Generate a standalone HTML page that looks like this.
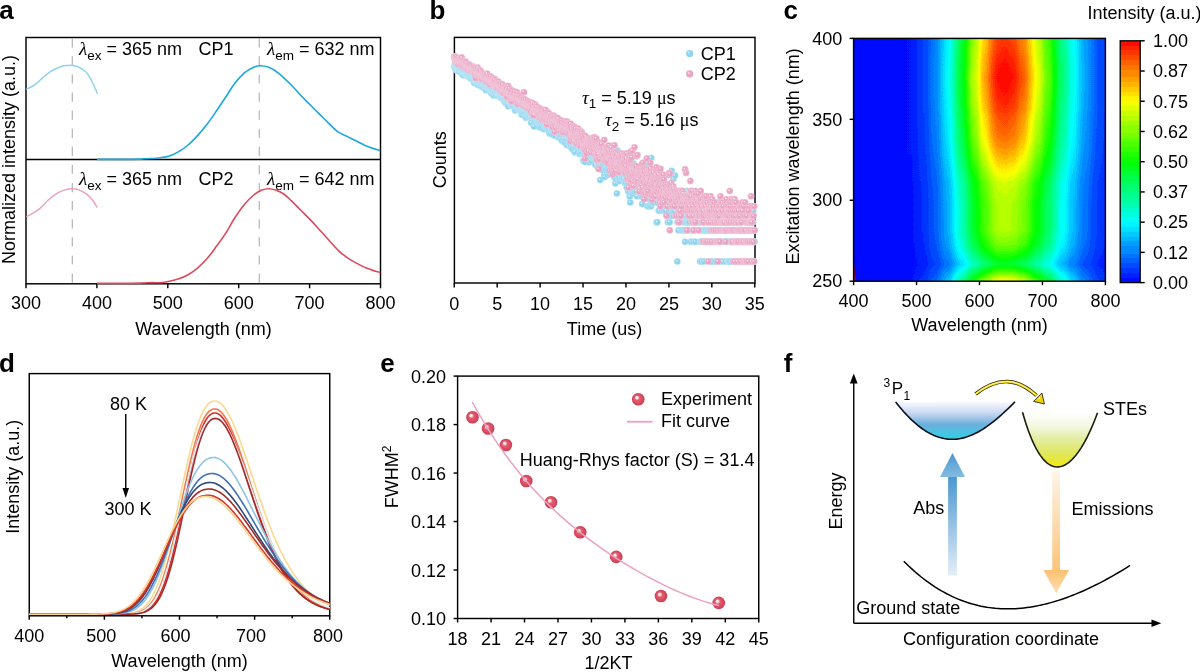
<!DOCTYPE html>
<html><head><meta charset="utf-8"><style>
html,body{margin:0;padding:0;background:#fff;width:1200px;height:672px;overflow:hidden}
svg{display:block;will-change:transform}
text{font-family:"Liberation Sans",sans-serif;fill:#000}
</style></head><body>
<svg width="1200" height="672" viewBox="0 0 1200 672">
<text x="-0.8" y="18.5" font-size="26" text-anchor="start" font-weight="bold">a</text>
<text x="429.4" y="18.5" font-size="26" text-anchor="start" font-weight="bold">b</text>
<text x="783.4" y="18.5" font-size="26" text-anchor="start" font-weight="bold">c</text>
<text x="-0.9" y="372.3" font-size="26" text-anchor="start" font-weight="bold">d</text>
<text x="380.2" y="372.3" font-size="26" text-anchor="start" font-weight="bold">e</text>
<text x="783.8" y="372.3" font-size="26" text-anchor="start" font-weight="bold">f</text>
<rect x="26" y="37.5" width="354.5" height="246.3" stroke="#000" stroke-width="1.45" fill="none"/>
<path d="M26,159.5H380.5" stroke="#000" stroke-width="1.45" fill="none"/>
<path d="M26,283.8v4.5" stroke="#000" stroke-width="1.45" fill="none"/>
<text x="26" y="309.3" font-size="18" text-anchor="middle" >300</text>
<path d="M96.9,283.8v4.5" stroke="#000" stroke-width="1.45" fill="none"/>
<text x="96.9" y="309.3" font-size="18" text-anchor="middle" >400</text>
<path d="M167.8,283.8v4.5" stroke="#000" stroke-width="1.45" fill="none"/>
<text x="167.8" y="309.3" font-size="18" text-anchor="middle" >500</text>
<path d="M238.7,283.8v4.5" stroke="#000" stroke-width="1.45" fill="none"/>
<text x="238.7" y="309.3" font-size="18" text-anchor="middle" >600</text>
<path d="M309.6,283.8v4.5" stroke="#000" stroke-width="1.45" fill="none"/>
<text x="309.6" y="309.3" font-size="18" text-anchor="middle" >700</text>
<path d="M380.5,283.8v4.5" stroke="#000" stroke-width="1.45" fill="none"/>
<text x="380.5" y="309.3" font-size="18" text-anchor="middle" >800</text>
<text x="203.5" y="335" font-size="18" text-anchor="middle" >Wavelength (nm)</text>
<text transform="translate(15,159.5) rotate(-90)" font-size="18" text-anchor="middle">Normalized intensity (a.u.)</text>
<path d="M72.3,38.2V283.8" stroke="#b4b4b4" stroke-width="1.2" stroke-dasharray="9.2 8.9"/>
<path d="M259.3,38.2V283.8" stroke="#b4b4b4" stroke-width="1.2" stroke-dasharray="9.2 8.9"/>
<path d="M26.25,89.4C27.29,88.88 30.62,87.4 32.5,86.25C34.38,85.1 35.62,84.06 37.5,82.5C39.38,80.94 41.67,78.67 43.75,76.9C45.83,75.13 47.92,73.3 50,71.9C52.08,70.5 54.17,69.48 56.25,68.5C58.33,67.52 60.62,66.5 62.5,66C64.38,65.5 65.83,65.6 67.5,65.5C69.17,65.4 70.83,65.23 72.5,65.4C74.17,65.57 75.83,65.83 77.5,66.5C79.17,67.17 80.83,68.19 82.5,69.4C84.17,70.61 85.83,71.57 87.5,73.75C89.17,75.93 90.83,79.17 92.5,82.5C94.17,85.83 96.67,91.88 97.5,93.75" stroke="#8fd3f0" stroke-width="1.5" fill="none"/>
<path d="M26.25,216.7C27.29,216.13 30.21,214.7 32.5,213.3C34.79,211.9 37.5,210.38 40,208.3C42.5,206.22 45,203.08 47.5,200.8C50,198.52 52.37,196.33 55,194.6C57.63,192.87 60.45,191.38 63.3,190.4C66.15,189.43 69.6,188.88 72.1,188.75C74.6,188.62 75.87,188.69 78.3,189.6C80.73,190.51 84.33,192.47 86.7,194.2C89.07,195.93 90.77,197.78 92.5,200C94.23,202.22 96.33,206.25 97.1,207.5" stroke="#eaa3bf" stroke-width="1.5" fill="none"/>
<path d="M97,159.4C100.83,159.39 112.83,159.4 120,159.35C127.17,159.3 134.67,159.24 140,159.1C145.33,158.96 148.67,158.72 152,158.5C155.33,158.28 157.1,158.18 160,157.75C162.9,157.32 166.28,156.93 169.4,155.9C172.53,154.88 175.63,153.42 178.75,151.6C181.87,149.78 184.97,147.67 188.1,145C191.22,142.33 194.37,139.03 197.5,135.6C200.63,132.17 203.78,128.46 206.9,124.4C210.03,120.34 213.13,115.78 216.25,111.25C219.37,106.72 222.47,101.89 225.6,97.2C228.72,92.51 231.87,87.17 235,83.1C238.13,79.03 241.28,75.45 244.4,72.8C247.53,70.15 251.1,68.38 253.75,67.2C256.4,66.02 257.8,65.7 260.3,65.7C262.8,65.7 265.78,66.02 268.75,67.2C271.72,68.38 274.35,69.83 278.1,72.8C281.85,75.77 287.5,81.25 291.25,85C295,88.75 297.48,92.02 300.6,95.3C303.73,98.58 306.87,101.57 310,104.7C313.13,107.83 316.27,110.98 319.4,114.1C322.52,117.22 325.63,120.43 328.75,123.4C331.87,126.37 334.98,129.7 338.1,131.9C341.23,134.1 344.37,135.04 347.5,136.6C350.63,138.16 353.77,139.68 356.9,141.25C360.02,142.82 363.13,144.66 366.25,146C369.37,147.34 373.26,148.53 375.6,149.3C377.94,150.07 379.52,150.38 380.3,150.6" stroke="#1aa8dc" stroke-width="1.6" fill="none"/>
<path d="M97,283.4C100.83,283.39 112.83,283.4 120,283.35C127.17,283.3 134.67,283.23 140,283.1C145.33,282.98 148.67,282.66 152,282.6C155.33,282.54 157.1,282.98 160,282.75C162.9,282.52 166.28,281.91 169.4,281.25C172.53,280.59 175.63,279.89 178.75,278.8C181.87,277.71 184.97,276.48 188.1,274.7C191.22,272.92 194.37,270.76 197.5,268.1C200.63,265.44 203.78,262.33 206.9,258.75C210.03,255.17 213.13,250.82 216.25,246.6C219.37,242.38 222.47,238.25 225.6,233.4C228.72,228.55 231.87,222.33 235,217.5C238.13,212.67 241.28,208.15 244.4,204.4C247.53,200.65 250.94,197.35 253.75,195C256.56,192.65 258.75,191.33 261.25,190.3C263.75,189.27 266.25,188.8 268.75,188.8C271.25,188.8 273.75,189.43 276.25,190.3C278.75,191.17 281.25,192.28 283.75,194C286.25,195.72 288.44,197.93 291.25,200.6C294.06,203.27 297.48,206.87 300.6,210C303.73,213.13 306.87,216.12 310,219.4C313.13,222.68 316.27,226.27 319.4,229.7C322.52,233.13 325.63,236.57 328.75,240C331.87,243.43 334.98,247.33 338.1,250.3C341.23,253.27 344.37,255.62 347.5,257.8C350.63,259.98 353.77,261.68 356.9,263.4C360.02,265.12 363.13,266.78 366.25,268.1C369.37,269.42 373.26,270.58 375.6,271.3C377.94,272.02 379.52,272.22 380.3,272.4" stroke="#dc4a5c" stroke-width="1.6" fill="none"/>
<text x="79" y="55.4" font-size="18"><tspan font-family="Liberation Serif, serif" font-style="italic" font-size="19">&#955;</tspan><tspan font-size="13.5" dy="4.5">ex</tspan><tspan dy="-4.5"> = 365 nm</tspan></text>
<text x="267" y="55.4" font-size="18"><tspan font-family="Liberation Serif, serif" font-style="italic" font-size="19">&#955;</tspan><tspan font-size="13.5" dy="4.5">em</tspan><tspan dy="-4.5"> = 632 nm</tspan></text>
<text x="198.5" y="55.4" font-size="18" text-anchor="start" >CP1</text>
<text x="79" y="185" font-size="18"><tspan font-family="Liberation Serif, serif" font-style="italic" font-size="19">&#955;</tspan><tspan font-size="13.5" dy="4.5">ex</tspan><tspan dy="-4.5"> = 365 nm</tspan></text>
<text x="267" y="185" font-size="18"><tspan font-family="Liberation Serif, serif" font-style="italic" font-size="19">&#955;</tspan><tspan font-size="13.5" dy="4.5">em</tspan><tspan dy="-4.5"> = 642 nm</tspan></text>
<text x="198.5" y="185" font-size="18" text-anchor="start" >CP2</text>
<rect x="454.4" y="37.4" width="300.6" height="245.6" stroke="#000" stroke-width="1.45" fill="none"/>
<path d="M454.25,283.0v4.5" stroke="#000" stroke-width="1.45" fill="none"/>
<text x="454.25" y="309.5" font-size="18" text-anchor="middle" >0</text>
<path d="M497.18,283.0v4.5" stroke="#000" stroke-width="1.45" fill="none"/>
<text x="497.18" y="309.5" font-size="18" text-anchor="middle" >5</text>
<path d="M540.11,283.0v4.5" stroke="#000" stroke-width="1.45" fill="none"/>
<text x="540.11" y="309.5" font-size="18" text-anchor="middle" >10</text>
<path d="M583.04,283.0v4.5" stroke="#000" stroke-width="1.45" fill="none"/>
<text x="583.04" y="309.5" font-size="18" text-anchor="middle" >15</text>
<path d="M625.97,283.0v4.5" stroke="#000" stroke-width="1.45" fill="none"/>
<text x="625.97" y="309.5" font-size="18" text-anchor="middle" >20</text>
<path d="M668.9,283.0v4.5" stroke="#000" stroke-width="1.45" fill="none"/>
<text x="668.9" y="309.5" font-size="18" text-anchor="middle" >25</text>
<path d="M711.83,283.0v4.5" stroke="#000" stroke-width="1.45" fill="none"/>
<text x="711.83" y="309.5" font-size="18" text-anchor="middle" >30</text>
<path d="M754.76,283.0v4.5" stroke="#000" stroke-width="1.45" fill="none"/>
<text x="754.76" y="309.5" font-size="18" text-anchor="middle" >35</text>
<text x="604.5" y="335.3" font-size="18" text-anchor="middle" >Time (us)</text>
<text transform="translate(446,159.7) rotate(-90)" font-size="18" text-anchor="middle">Counts</text>
<defs><marker id="mb" markerUnits="userSpaceOnUse" markerWidth="10" markerHeight="10" refX="5" refY="5" overflow="visible"><circle cx="5" cy="5" r="3.25" fill="#8ed4f0" stroke="#d6f0fb" stroke-width="0.4"/><circle cx="4.2" cy="4.2" r="0.8" fill="#eaf8fd"/></marker><marker id="mpk" markerUnits="userSpaceOnUse" markerWidth="10" markerHeight="10" refX="5" refY="5" overflow="visible"><circle cx="5" cy="5" r="3.25" fill="#e9a5c3" stroke="#f7dbe8" stroke-width="0.4"/><circle cx="4.2" cy="4.2" r="0.8" fill="#fdf0f5"/></marker></defs>
<path d="M454.25 66.6L454.44 65.39L454.63 66.33L454.82 65.62L455.01 65.51L455.19 66.12L455.38 69.19L455.57 66.76L455.76 65.37L455.95 66.74L456.14 66.42L456.33 65.42L456.52 67.35L456.71 70.47L456.89 68.65L457.08 66.79L457.27 67.64L457.46 67.42L457.65 66.63L457.84 70.27L458.03 69.13L458.22 65.32L458.41 70.26L458.59 69.8L458.78 67.26L458.97 68.02L459.16 71.43L459.35 69.69L459.54 68.17L459.73 66.86L459.92 67.61L460.11 67.73L460.29 69.53L460.48 65.09L460.67 71.47L460.86 69.36L461.05 67.76L461.24 68.5L461.43 72.83L461.62 69.45L461.81 70.84L461.99 69.96L462.18 70.99L462.37 74.38L462.56 70.79L462.75 71.99L462.94 67.36L463.13 73.04L463.32 75.27L463.51 70.68L463.69 72.31L463.88 73.42L464.07 71.83L464.26 70.96L464.45 74.5L464.64 70.03L464.83 73.5L465.02 72.09L465.21 69.5L465.39 69.35L465.58 74.63L465.77 73.18L465.96 72.91L466.15 73.91L466.34 73.91L466.53 72.79L466.72 73.64L466.91 72.14L467.09 73.57L467.28 75.38L467.47 74.96L467.66 68.07L467.85 75.83L468.04 74.3L468.23 75.99L468.42 73.44L468.61 72.83L468.79 75.23L468.98 75.09L469.17 77.33L469.36 72.22L469.55 76.92L469.74 76.97L469.93 76.85L470.12 77.06L470.31 70.23L470.49 72.38L470.68 72.86L470.87 77.93L471.06 76.73L471.25 75.75L471.44 79.11L471.63 75.03L471.82 72.02L472.01 75.44L472.19 78L472.38 77.93L472.57 76.48L472.76 75.07L472.95 76.18L473.14 77.44L473.33 74.57L473.52 75.92L473.71 79.72L473.89 81.66L474.08 76.79L474.27 82.95L474.46 77.52L474.65 78.76L474.84 75.3L475.03 79.99L475.22 77L475.41 81.6L475.59 79.23L475.78 77.25L475.97 81.5L476.16 83.06L476.35 78.22L476.54 81.15L476.73 81.98L476.92 81.79L477.11 81.14L477.29 82.48L477.48 80.78L477.67 84.66L477.86 82.02L478.05 80.9L478.24 81.94L478.43 79L478.62 82.16L478.81 79.31L478.99 83.81L479.18 82.43L479.37 81.71L479.56 83.01L479.75 79.59L479.94 82.74L480.13 79.99L480.32 81.92L480.51 83.95L480.69 84.44L480.88 86.04L481.07 80.08L481.26 81.42L481.45 84.22L481.64 81.82L481.83 83.42L482.02 82.96L482.21 82.87L482.39 79.35L482.58 84.75L482.77 83.29L482.96 78.53L483.15 87.55L483.34 86.44L483.53 81.74L483.72 85.16L483.91 85.45L484.09 85.62L484.28 84.36L484.47 85.44L484.66 84L484.85 84.67L485.04 83.91L485.23 79.99L485.42 85.42L485.61 84.19L485.79 86.62L485.98 90.16L486.17 84.21L486.36 87.45L486.55 86.84L486.74 86.15L486.93 85.2L487.12 85.63L487.31 85.84L487.49 86.31L487.68 85.94L487.87 88.58L488.06 88.76L488.25 88.17L488.44 88.09L488.63 87.49L488.82 87.08L489.01 89.51L489.2 86.29L489.38 88.75L489.57 88.46L489.76 88.43L489.95 86.22L490.14 89.67L490.33 87.6L490.52 86.35L490.71 91.55L490.9 91.44L491.08 85.82L491.27 93.34L491.46 87.3L491.65 91.33L491.84 89.13L492.03 88.88L492.22 90.79L492.41 89.35L492.6 86.63L492.78 91.57L492.97 92.52L493.16 91.09L493.35 95.3L493.54 88.5L493.73 95.19L493.92 92.8L494.11 89.55L494.3 93.08L494.48 92.64L494.67 90.25L494.86 91.17L495.05 91.33L495.24 93.18L495.43 92.13L495.62 89.23L495.81 88.96L496 94.14L496.18 91.35L496.37 90.1L496.56 90.87L496.75 89.42L496.94 89.66L497.13 93.43L497.32 95.77L497.51 88.95L497.7 94L497.88 91.7L498.07 93.8L498.26 93.88L498.45 93.65L498.64 94.85L498.83 93.56L499.02 94.11L499.21 90.5L499.4 96.15L499.58 94.08L499.77 93.17L499.96 94.22L500.15 93.65L500.34 90.11L500.53 96.6L500.72 97.84L500.91 92.42L501.1 95.12L501.28 95.87L501.47 94.04L501.66 95.82L501.85 95.28L502.04 94.52L502.23 95.24L502.42 97.7L502.61 97.24L502.8 94.84L502.98 92.59L503.17 95.2L503.36 90.68L503.55 98.55L503.74 100.5L503.93 99.02L504.12 97.89L504.31 96.32L504.5 94.67L504.68 93.86L504.87 101.39L505.06 98.22L505.25 96.24L505.44 99.86L505.63 98.65L505.82 102.88L506.01 95.98L506.2 97.37L506.38 95.19L506.57 96.82L506.76 101.49L506.95 96.94L507.14 101.87L507.33 99.96L507.52 99.21L507.71 104.79L507.9 101.16L508.08 100.82L508.27 106.37L508.46 95.49L508.65 99.61L508.84 97.47L509.03 99.91L509.22 98.6L509.41 97.83L509.6 101.5L509.78 99.68L509.97 102.83L510.16 104.94L510.35 99.71L510.54 100.74L510.73 102.36L510.92 102.1L511.11 104.8L511.3 103.07L511.48 93.91L511.67 103.27L511.86 102.7L512.05 103.45L512.24 103.83L512.43 104.22L512.62 100.6L512.81 105.92L513 105.27L513.18 102.31L513.37 102.01L513.56 105.78L513.75 101.58L513.94 105.18L514.13 106.41L514.32 99.51L514.51 103.29L514.7 102.03L514.88 101.15L515.07 104.22L515.26 110.53L515.45 99.45L515.64 103L515.83 104.65L516.02 107.23L516.21 101.27L516.4 104.18L516.58 108.08L516.77 103.28L516.96 109.42L517.15 105.07L517.34 105.8L517.53 105.29L517.72 105.87L517.91 108.13L518.1 108.09L518.28 106.25L518.47 109.18L518.66 103.27L518.85 103.48L519.04 108.08L519.23 103.35L519.42 107.56L519.61 110.03L519.8 109.3L519.98 105.4L520.17 107.94L520.36 110.5L520.55 106.91L520.74 103.68L520.93 109.15L521.12 106.09L521.31 106.17L521.5 111.09L521.68 114.63L521.87 109.76L522.06 110.41L522.25 106.87L522.44 109.43L522.63 113.26L522.82 109.2L523.01 108.3L523.2 103.72L523.38 103.05L523.57 107.25L523.76 112.55L523.95 109.32L524.14 109.2L524.33 112.73L524.52 110.27L524.71 112.61L524.9 109.16L525.08 109L525.27 116.08L525.46 107.83L525.65 109.53L525.84 117.81L526.03 112.44L526.22 110.5L526.41 116.78L526.6 110.77L526.78 111.13L526.97 109.61L527.16 107.37L527.35 114.3L527.54 108.67L527.73 115.96L527.92 114.58L528.11 109.28L528.3 108.6L528.48 112.09L528.67 114.99L528.86 106.97L529.05 115.31L529.24 116.6L529.43 111.5L529.62 109.02L529.81 108.59L530 113.98L530.18 116.59L530.37 112.89L530.56 116.31L530.75 114.88L530.94 112.4L531.13 122.7L531.32 105.76L531.51 115.63L531.7 114.18L531.88 113.19L532.07 117L532.26 115.29L532.45 111.05L532.64 114.88L532.83 112.99L533.02 116.69L533.21 114.37L533.4 117.53L533.58 117.27L533.77 116.81L533.96 126.44L534.15 117.85L534.34 112.3L534.53 115.46L534.72 121.61L534.91 110.01L535.1 115.67L535.28 117.02L535.47 113.88L535.66 114.43L535.85 114L536.04 121.69L536.23 116.34L536.42 118.56L536.61 119.54L536.8 118.24L536.98 121.2L537.17 117.76L537.36 116.5L537.55 117.7L537.74 120.65L537.93 115.14L538.12 118.34L538.31 123.14L538.5 119.01L538.68 120.46L538.87 121.97L539.06 126.94L539.25 123.54L539.44 123.05L539.63 109.1L539.82 122.13L540.01 118.6L540.2 115.71L540.38 126.35L540.57 127.5L540.76 122.31L540.95 118.03L541.14 120.12L541.33 119.86L541.52 125.06L541.71 121.51L541.9 126.47L542.08 120.95L542.27 113.56L542.46 122.33L542.65 113.91L542.84 122.69L543.03 118.72L543.22 117.51L543.41 120.3L543.6 120.31L543.78 129.32L543.97 120.42L544.16 124.57L544.35 124.99L544.54 122.83L544.73 118.8L544.92 120.96L545.11 122.57L545.3 121.56L545.48 124.4L545.67 123.54L545.86 128.25L546.05 128.8L546.24 127.55L546.43 121.26L546.62 126.09L546.81 119.63L547 126.37L547.18 125.93L547.37 124.71L547.56 124.06L547.75 125.68L547.94 124.95L548.13 121.21L548.32 126.15L548.51 127.88L548.7 123.71L548.88 114.24L549.07 121.64L549.26 130.11L549.45 133.59L549.64 124.04L549.83 119.15L550.02 125.06L550.21 124.96L550.4 123.8L550.58 124.91L550.77 133.5L550.96 128.36L551.15 129.43L551.34 125.86L551.53 129.2L551.72 125.16L551.91 129.17L552.1 127.35L552.28 127.69L552.47 123.15L552.66 130.7L552.85 127.14L553.04 128.18L553.23 125.75L553.42 124.83L553.61 135.16L553.8 130.91L553.98 128.16L554.17 126.39L554.36 128.77L554.55 130.98L554.74 129.39L554.93 128.25L555.12 129.9L555.31 135.74L555.5 129.85L555.69 129.88L555.87 127.47L556.06 129.74L556.25 133.25L556.44 131.11L556.63 130.84L556.82 131.13L557.01 132.13L557.2 129.84L557.39 124.31L557.57 134.17L557.76 127.71L557.95 132.94L558.14 130.96L558.33 126L558.52 137.59L558.71 129.63L558.9 135L559.09 129.37L559.27 128.98L559.46 130.35L559.65 134.72L559.84 136.71L560.03 130.5L560.22 135.73L560.41 129.16L560.6 127.8L560.79 128.15L560.97 130.19L561.16 130.55L561.35 134.55L561.54 134.35L561.73 140.49L561.92 130.8L562.11 132.4L562.3 136.24L562.49 129.97L562.67 138.83L562.86 131.93L563.05 133.87L563.24 136.9L563.43 128.43L563.62 132.35L563.81 131.24L564 140.99L564.19 135.51L564.37 133.44L564.56 142.87L564.75 132.28L564.94 142.37L565.13 137.27L565.32 138.72L565.51 133.57L565.7 136.37L565.89 135.28L566.07 138.9L566.26 136L566.45 134.49L566.64 134.23L566.83 134.81L567.02 145.05L567.21 128.99L567.4 134.41L567.59 127.89L567.77 137.08L567.96 137.38L568.15 130.16L568.34 138.18L568.53 138.05L568.72 137.66L568.91 136.32L569.1 142.63L569.29 136.48L569.47 144.41L569.66 142.53L569.85 134.39L570.04 133.22L570.23 136.44L570.42 146.91L570.61 146.08L570.8 141.34L570.99 137.69L571.17 137.02L571.36 137.6L571.55 130.78L571.74 136.62L571.93 147.13L572.12 141.92L572.31 149.14L572.5 148.28L572.69 143.08L572.87 138.44L573.06 139.99L573.25 138.8L573.44 138.03L573.63 141.49L573.82 146.24L574.01 139.39L574.2 140.57L574.39 143.33L574.57 136.56L574.76 152.27L574.95 145.26L575.14 147.35L575.33 137.78L575.52 146.71L575.71 144.03L575.9 141.48L576.09 143.96L576.27 138.18L576.46 142.71L576.65 139.89L576.84 144.75L577.03 139.57L577.22 143.78L577.41 146.37L577.6 145.6L577.79 146.73L577.97 137.88L578.16 142.46L578.35 143.3L578.54 138.11L578.73 141.51L578.92 147L579.11 144.04L579.3 145.93L579.49 153.94L579.67 142.78L579.86 145.18L580.05 145.69L580.24 153.57L580.43 140.37L580.62 149.29L580.81 149.49L581 140.71L581.19 139.89L581.37 138.72L581.56 146.1L581.75 152.65L581.94 145.54L582.13 140.27L582.32 147.08L582.51 152.25L582.7 147.64L582.89 144.28L583.07 149.35L583.26 143.58L583.45 160.45L583.64 144.11L583.83 149.42L584.02 142.07L584.21 146.62L584.4 153.47L584.59 153.81L584.77 142.25L584.96 162.01L585.15 151.84L585.34 157.79L585.53 148.26L585.72 150.36L585.91 152.86L586.1 145.68L586.29 157.38L586.47 153.29L586.66 153.97L586.85 143.83L587.04 154.47L587.23 153.22L587.42 149.75L587.61 143.27L587.8 156.36L587.99 157.79L588.17 158.16L588.36 141.5L588.55 154.77L588.74 159.83L588.93 153.79L589.12 151.64L589.31 162.21L589.5 149.14L589.69 151.04L589.87 153.58L590.06 150.06L590.25 158.38L590.44 159.69L590.63 159.51L590.82 148.88L591.01 156.21L591.2 145.06L591.39 139.54L591.57 160.96L591.76 151.85L591.95 149.47L592.14 157.62L592.33 153.09L592.52 149.53L592.71 156.86L592.9 157.61L593.09 153.36L593.27 146.02L593.46 154.89L593.65 156.69L593.84 150.87L594.03 159.07L594.22 154.03L594.41 158.09L594.6 154.74L594.79 157.37L594.97 157.11L595.16 139.94L595.35 164.65L595.54 158.32L595.73 158.12L595.92 157.11L596.11 150.23L596.3 152.93L596.49 159.99L596.67 143.51L596.86 155.11L597.05 153.26L597.24 145.48L597.43 156.96L597.62 146.24L597.81 166.92L598 149.61L598.19 163.42L598.37 155.82L598.56 165.53L598.75 163.96L598.94 152.85L599.13 155.71L599.32 161.26L599.51 161.5L599.7 164.29L599.89 160.86L600.07 156.98L600.26 180.08L600.45 155.2L600.64 152.85L600.83 165.43L601.02 166.28L601.21 162.79L601.4 152.78L601.59 167.39L601.77 154.93L601.96 151.76L602.15 159.7L602.34 150.45L602.53 164.79L602.72 170.13L602.91 153.24L603.1 164.71L603.29 158.2L603.47 153.86L603.66 155.03L603.85 152.76L604.04 151.47L604.23 174.68L604.42 163.83L604.61 160.09L604.8 177.11L604.99 153.41L605.17 159.07L605.36 154.16L605.55 157L605.74 168.68L605.93 162.93L606.12 156.59L606.31 160.78L606.5 165.07L606.69 157.76L606.87 162.56L607.06 167.59L607.25 169L607.44 152.97L607.63 161.53L607.82 161.83L608.01 175.07L608.2 157.18L608.39 165.03L608.57 163.98L608.76 166.98L608.95 154.01L609.14 162.57L609.33 159.11L609.52 161.69L609.71 174.06L609.9 164.45L610.09 165.81L610.27 157.85L610.46 161.92L610.65 172.12L610.84 156.31L611.03 171.34L611.22 169.28L611.41 167.05L611.6 160.15L611.79 160.65L611.97 169.24L612.16 166.13L612.35 160.43L612.54 171.65L612.73 157.58L612.92 169.08L613.11 167.31L613.3 170.79L613.49 172.38L613.67 167.2L613.86 162.83L614.05 158.98L614.24 157.83L614.43 162.8L614.62 166.97L614.81 177.75L615 165.86L615.19 171.09L615.37 183.38L615.56 156.93L615.75 161.99L615.94 166.37L616.13 170.94L616.32 168.33L616.51 170.74L616.7 179.45L616.89 193.5L617.07 175.54L617.26 169.95L617.45 172.33L617.64 150.57L617.83 177.61L618.02 169.29L618.21 169.94L618.4 151.9L618.59 176.07L618.77 168.56L618.96 180.41L619.15 163.13L619.34 161.91L619.53 181.04L619.72 172.78L619.91 178.45L620.1 168.51L620.29 160.32L620.47 166.99L620.66 175.02L620.85 163.3L621.04 164.29L621.23 172.92L621.42 177.68L621.61 169.5L621.8 179.17L621.99 176.33L622.17 178.18L622.36 162.45L622.55 167.99L622.74 163.74L622.93 175.12L623.12 170.89L623.31 178.79L623.5 177.76L623.69 178.12L623.88 153.91L624.06 181.21L624.25 173.19L624.44 161.16L624.63 174.37L624.82 182.91L625.01 169.22L625.2 160.42L625.39 167.38L625.58 182.02L625.76 179.66L625.95 175.64L626.14 172.78L626.33 167.85L626.52 178.35L626.71 187.51L626.9 177.8L627.09 176.75L627.28 166.46L627.46 161.93L627.65 180.58L627.84 165.74L628.03 183.23L628.22 191.8L628.41 165.67L628.6 163.46L628.79 166.94L628.98 191.03L629.16 162.38L629.35 178.69L629.54 171.03L629.73 196.7L629.92 175.77L630.11 157.7L630.3 202.53L630.49 155.4L630.68 161.64L630.86 164.32L631.05 178.38L631.24 172.64L631.43 177.32L631.62 191.03L631.81 165.68L632 176.84L632.19 163.63L632.38 180.62L632.56 193.5L632.75 191.03L632.94 169.62L633.13 175.93L633.32 175.28L633.51 163.56L633.7 191.4L633.89 165.98L634.08 191.1L634.26 187.66L634.45 171.05L634.64 178.09L634.83 169.82L635.02 172.76L635.21 183.82L635.4 187.11L635.59 174.8L635.78 168.36L635.96 190.29L636.15 191.03L636.34 177.86L636.53 174.27L636.72 166.22L636.91 168.49L637.1 196.2L637.29 183.35L637.48 168.59L637.66 186.57L637.85 183.7L638.04 174.77L638.23 169.31L638.42 181.43L638.61 178.83L638.8 168.24L638.99 169.13L639.18 177.98L639.36 170.67L639.55 177.34L639.74 188.58L639.93 193.51L640.12 173.99L640.31 183.17L640.5 190.68L640.69 171.28L640.88 191.03L641.06 178.42L641.25 196.2L641.44 166.56L641.63 191.03L641.82 178.81L642.01 181.17L642.2 203.9L642.39 178.2L642.58 184.03L642.76 183.4L642.95 196.2L643.14 191.03L643.33 174.05L643.52 179.96L643.71 191.03L643.9 191.03L644.09 193.5L644.28 178.12L644.46 169.38L644.65 182.07L644.84 193.5L645.03 170L645.22 165.43L645.41 186.16L645.6 183.45L645.79 193.8L645.98 175.8L646.16 178.91L646.35 191.03L646.54 193.78L646.73 175.65L646.92 183.67L647.11 191.03L647.3 193.5L647.49 196.2L647.68 206.32L647.86 178.59L648.05 206.32L648.24 182.9L648.43 186.55L648.62 190.38L648.81 192.97L649 199.19L649.19 175.83L649.38 180.19L649.56 199.19L649.75 199.19L649.94 193.5L650.13 206.32L650.32 191.31L650.51 180.37L650.7 182.12L650.89 191.03L651.08 206.32L651.26 157.94L651.45 171.84L651.64 196.2L651.83 203.5L652.02 191.03L652.21 196.2L652.4 191.03L652.59 202.53L652.78 179.07L652.96 199.19L653.15 193.5L653.34 174.43L653.53 193.5L653.72 202.53L653.91 196.2L654.1 172.56L654.29 192.68L654.48 178.86L654.66 184.73L654.85 199.19L655.04 196.2L655.23 193.5L655.42 180.34L655.61 181.56L655.8 177.29L655.99 196.2L656.18 193.5L656.36 196.2L656.55 222.19L656.74 193.85L656.93 191.03L657.12 202.53L657.31 222.19L657.5 202.53L657.69 193.5L657.88 196.2L658.06 196.43L658.25 178.84L658.44 173.35L658.63 210.69L658.82 193.5L659.01 191.03L659.2 193.5L659.39 210.69L659.58 192.2L659.76 193.5L659.95 199.19L660.14 196.2L660.33 196.2L660.52 199.19L660.71 191.03L660.9 193.5L661.09 185.57L661.28 196.2L661.46 206.32L661.65 185.27L661.84 210.69L662.03 206.32L662.22 193.5L662.41 193.5L662.6 199.19L662.79 202.53L662.98 191.9L663.16 206.32L663.35 196.2L663.54 210.69L663.73 199.19L663.92 202.53L664.11 186.29L664.3 196.2L664.49 196.2L664.68 206.32L664.86 202.53L665.05 210.69L665.24 189.62L665.43 191.34L665.62 199.19L665.81 199.19L666 210.69L666.19 191.03L666.38 206.32L666.56 193.5L666.75 215.86L666.94 202.53L667.13 191.03L667.32 206.32L667.51 199.19L667.7 191.03L667.89 222.19L668.08 202.53L668.26 191.03L668.45 191.03L668.64 202.53L668.83 194.23L669.02 202.53L669.21 191.03L669.4 191.03L669.59 222.19L669.78 199.19L669.96 206.32L670.15 215.86L670.34 196.2L670.53 206.32L670.72 215.86L670.91 202.53L671.1 210.69L671.29 188.83L671.48 199.19L671.66 170.77L671.85 202.53L672.04 199.19L672.23 202.53L672.42 202.53L672.61 210.69L672.8 196.2L672.99 206.32L673.18 215.86L673.36 210.69L673.55 178.73L673.74 199.19L673.93 199.19L674.12 191.03L674.31 193.5L674.5 199.19L674.69 210.69L674.88 206.32L675.06 175.57L675.25 199.19L675.44 202.53L675.63 206.32L675.82 191.03L676.01 202.53L676.2 215.86L676.39 199.19L676.58 199.19L676.76 199.19L676.95 215.86L677.14 215.86L677.33 261.5L677.52 222.19L677.71 210.69L677.9 199.19L678.09 196.2L678.28 210.69L678.46 230.34L678.65 196.2L678.84 210.69L679.03 202.53L679.22 215.86L679.41 215.86L679.6 202.53L679.79 215.86L679.98 206.32L680.16 191.03L680.35 202.53L680.54 193.5L680.73 199.19L680.92 210.69L681.11 202.53L681.3 193.5L681.49 230.34L681.68 191.03L681.86 222.19L682.05 206.32L682.24 210.69L682.43 230.34L682.62 202.53L682.81 215.86L683 196.2L683.19 202.53L683.38 202.53L683.56 206.32L683.75 230.34L683.94 215.86L684.13 199.19L684.32 230.34L684.51 210.69L684.7 206.32L684.89 206.32L685.08 241.84L685.26 202.53L685.45 230.34L685.64 222.19L685.83 215.86L686.02 206.32L686.21 215.86L686.4 199.19L686.59 222.19L686.78 230.34L686.96 215.86L687.15 210.69L687.34 199.19L687.53 191.03L687.72 215.86L687.91 222.19L688.1 210.69L688.29 222.19L688.48 215.86L688.66 215.86L688.85 222.19L689.04 230.34L689.23 230.34L689.42 199.19L689.61 222.19L689.8 206.32L689.99 199.19L690.18 215.86L690.36 202.53L690.55 191.03L690.74 210.69L690.93 241.84L691.12 210.69L691.31 206.32L691.5 193.5L691.69 222.19L691.88 210.69L692.07 206.32L692.25 206.32L692.44 222.19L692.63 206.32L692.82 230.34L693.01 222.19L693.2 230.34L693.39 215.86L693.58 241.84L693.77 215.86L693.95 210.69L694.14 222.19L694.33 215.86L694.52 210.69L694.71 196.2L694.9 230.34L695.09 215.86L695.28 196.2L695.47 241.84L695.65 222.19L695.84 222.19L696.03 210.69L696.22 199.19L696.41 206.32L696.6 199.19L696.79 215.86L696.98 210.69L697.17 215.86L697.35 210.69L697.54 222.19L697.73 206.32L697.92 222.19L698.3 215.86L698.49 230.34L698.68 210.69L698.87 215.86L699.05 215.86L699.24 206.32L699.43 222.19L699.62 210.69L699.81 210.69L700 261.5L700.19 241.84L700.38 230.34L700.57 199.19L700.75 222.19L700.94 241.84L701.13 241.84L701.32 222.19L701.51 261.5L701.7 215.86L701.89 241.84L702.08 222.19L702.27 215.86L702.45 230.34L702.64 215.86L702.83 241.84L703.02 202.53L703.21 230.34L703.4 230.34L703.59 210.69L703.78 261.5L703.97 230.34L704.15 215.86L704.34 215.86L704.53 241.84L704.72 241.84L704.91 222.19L705.1 210.69L705.29 230.34L705.48 210.69L705.67 230.34L706.04 210.69L706.23 230.34L706.42 215.86L706.61 222.19L706.8 202.53L706.99 202.53L707.18 215.86L707.37 206.32L707.55 222.19L707.74 215.86L707.93 230.34L708.12 230.34L708.31 215.86L708.5 215.86L708.69 230.34L708.88 215.86L709.07 241.84L709.25 215.86L709.44 215.86L709.63 210.69L709.82 230.34L710.01 241.84L710.2 215.86L710.39 261.5L710.58 210.69L710.77 230.34L710.95 261.5L711.14 215.86L711.33 261.5L711.71 222.19L711.9 261.5L712.09 215.86L712.28 241.84L712.47 222.19L712.65 241.84L713.03 222.19L713.22 222.19L713.41 210.69L713.6 230.34L713.79 206.32L713.98 215.86L714.17 241.84L714.35 230.34L714.54 222.19L714.73 241.84L714.92 230.34L715.11 230.34L715.3 215.86L715.49 215.86L715.68 261.5L715.87 230.34L716.05 261.5L716.24 210.69L716.43 230.34L716.62 202.53L716.81 222.19L717 230.34L717.19 230.34L717.38 222.19L717.57 222.19L717.75 230.34L717.94 241.84L718.13 215.86L718.32 230.34L718.7 202.53L718.89 222.19L719.08 202.53L719.27 222.19L719.45 230.34L719.64 261.5L719.83 241.84L720.02 230.34L720.21 215.86L720.4 230.34L720.59 230.34L720.78 222.19L720.97 215.86L721.15 210.69L721.34 199.19L721.53 215.86L721.72 241.84L721.91 222.19L722.1 210.69L722.29 215.86L722.48 261.5L722.67 230.34L722.85 241.84L723.04 241.84L723.42 222.19L723.61 215.86L723.8 222.19L723.99 215.86L724.18 222.19L724.37 215.86L724.55 222.19L724.74 222.19L724.93 222.19L725.12 215.86L725.31 222.19L725.5 222.19L725.69 241.84L725.88 261.5L726.07 241.84L726.25 230.34L726.44 230.34L726.63 241.84L726.82 222.19L727.01 230.34L727.2 230.34L727.39 241.84L727.58 206.32L727.77 222.19L727.95 261.5L728.14 261.5L728.33 241.84L728.52 222.19L728.71 222.19L728.9 261.5L729.09 230.34L729.28 230.34L729.47 215.86L729.84 261.5L730.03 241.84L730.22 261.5L730.41 230.34L730.6 241.84L730.79 241.84L730.98 241.84L731.17 230.34L731.35 241.84L731.54 222.19L731.73 222.19L731.92 261.5L732.11 215.86L732.3 241.84L732.49 261.5L732.87 261.5L733.05 241.84L733.24 215.86L733.43 230.34L733.62 241.84L733.81 230.34L734 241.84L734.19 230.34L734.38 222.19L734.57 222.19L734.75 261.5L735.13 261.5L735.32 241.84L735.7 222.19L735.89 222.19L736.08 241.84L736.45 222.19L736.64 230.34L736.83 222.19L737.02 230.34L737.21 261.5L737.4 241.84L737.59 261.5L737.78 241.84L737.97 230.34L738.15 215.86L738.34 215.86L738.72 222.19L738.91 241.84L739.1 261.5L739.29 241.84L739.48 206.32L739.67 230.34L740.04 261.5L740.23 241.84L740.42 215.86L740.61 230.34L740.8 261.5L740.99 230.34L741.18 261.5L741.37 230.34L741.55 241.84L741.74 241.84L741.93 230.34L742.31 241.84L742.5 206.32L742.69 241.84L742.88 241.84L743.25 261.5L743.44 261.5L743.63 230.34L744.01 230.34L744.2 230.34L744.39 215.86L744.58 261.5L744.77 241.84L744.95 261.5L745.14 241.84L745.52 230.34L745.71 222.19L745.9 261.5L746.09 241.84L746.28 241.84L746.47 241.84L746.65 241.84L746.84 241.84L747.03 241.84L747.22 230.34L747.6 230.34L747.79 261.5L747.98 261.5L748.17 261.5L748.35 261.5L748.92 222.19L749.11 241.84L749.3 261.5L749.49 261.5L749.68 222.19L749.87 241.84L750.05 241.84L750.24 230.34L750.43 241.84L750.62 230.34L750.81 241.84L751 261.5L751.19 261.5L751.38 261.5L751.57 230.34L751.75 261.5L751.94 222.19L752.13 241.84L752.32 215.86L752.51 261.5L752.7 261.5L752.89 241.84L753.08 222.19L753.27 210.69L753.45 241.84L753.64 241.84L753.83 241.84L754.02 230.34L754.21 261.5L754.4 230.34L754.59 241.84" fill="none" stroke="none" marker-start="url(#mb)" marker-mid="url(#mb)" marker-end="url(#mb)"/>
<path d="M454.25 56.76L454.44 58.6L454.63 56.61L454.82 57.45L455.01 57.33L455.19 60.45L455.38 56.55L455.57 60.58L455.76 57.18L455.95 59.47L456.14 59.33L456.33 59.19L456.52 61.21L456.71 59.12L456.89 59.8L457.08 59.67L457.27 62.9L457.46 58.11L457.65 60.23L457.84 60.81L458.03 62.79L458.22 64.61L458.41 59.44L458.59 59.47L458.78 61.41L458.97 62.6L459.16 61.64L459.35 62.64L459.54 59.85L459.73 64L459.92 60.45L460.11 58.93L460.29 58.81L460.48 62.48L460.67 59.53L460.86 62.98L461.05 62.29L461.24 62.2L461.43 58.72L461.62 63.52L461.81 57.48L461.99 61.23L462.18 62.98L462.37 62.19L462.56 61.79L462.75 60.94L462.94 63.63L463.13 66.5L463.32 62.04L463.51 62.7L463.69 62.9L463.88 61.23L464.07 61.59L464.26 66.33L464.45 65.44L464.64 62.56L464.83 63.33L465.02 64.44L465.21 64.64L465.39 62.46L465.58 63.29L465.77 61.84L465.96 61.98L466.15 62.62L466.34 65.89L466.53 65.15L466.72 64.22L466.91 65.58L467.09 67.38L467.28 64.55L467.47 63.98L467.66 69.68L467.85 68.73L468.04 64.6L468.23 66.18L468.42 65.83L468.61 66.75L468.79 64.81L468.98 67.07L469.17 67.64L469.36 65.14L469.55 64.87L469.74 69.69L469.93 68.02L470.12 69.2L470.31 69.78L470.49 67.9L470.68 66.06L470.87 69.41L471.06 70.69L471.25 69.68L471.44 69.93L471.63 67.75L471.82 69.38L472.01 68.37L472.19 68.64L472.38 70.31L472.57 70.44L472.76 67.55L472.95 66.5L473.14 68.5L473.33 67.66L473.52 71.05L473.71 69.14L473.89 70.65L474.08 72.5L474.27 68.14L474.46 70.91L474.65 71.96L474.84 70.75L475.03 69.34L475.22 73.77L475.41 69.24L475.59 70.84L475.78 78.06L475.97 68.77L476.16 71.1L476.35 70.45L476.54 73.15L476.73 72.72L476.92 73.03L477.11 72.44L477.29 73.38L477.48 74.04L477.67 67.44L477.86 71.75L478.05 71.82L478.24 73.12L478.43 70.61L478.62 76.01L478.81 70.49L478.99 74L479.18 73.8L479.37 70.42L479.56 71.11L479.75 74.93L479.94 74.18L480.13 76.35L480.32 75.32L480.51 74.64L480.69 70.9L480.88 74.78L481.07 78.65L481.26 74.66L481.45 74.47L481.64 78.23L481.83 75.66L482.02 73.99L482.21 76.61L482.39 74.74L482.58 73.61L482.77 76.25L482.96 76.21L483.15 73.84L483.34 74.91L483.53 76L483.72 75.51L483.91 77.29L484.09 75.6L484.28 77.01L484.47 76.29L484.66 74.79L484.85 79.89L485.04 77.79L485.23 76.97L485.42 75.64L485.61 75.85L485.79 77.16L485.98 75.8L486.17 81.02L486.36 79.21L486.55 77.33L486.74 81.58L486.93 79.43L487.12 73.72L487.31 78.97L487.49 79.24L487.68 77.37L487.87 79.23L488.06 80L488.25 80.14L488.44 78.98L488.63 77.5L488.82 79.77L489.01 77.36L489.2 84.05L489.38 79.62L489.57 83.42L489.76 80L489.95 76.65L490.14 84.14L490.33 79.21L490.52 79.61L490.71 76.61L490.9 82.06L491.08 79.46L491.27 80.89L491.46 79.82L491.65 83.21L491.84 82.04L492.03 81.76L492.22 82.89L492.41 80.4L492.6 82.8L492.78 78.33L492.97 80.41L493.16 81.7L493.35 82.78L493.54 83.11L493.73 84.14L493.92 80.89L494.11 82.25L494.3 82.6L494.48 78.69L494.67 81.08L494.86 79.95L495.05 83.95L495.24 86.53L495.43 84.29L495.62 85.15L495.81 85.7L496 86.59L496.18 81.74L496.37 86.72L496.56 85.31L496.75 84.68L496.94 87.8L497.13 85.91L497.32 83.01L497.51 86.87L497.7 85.28L497.88 86.07L498.07 87.71L498.26 81.58L498.45 83.89L498.64 83.62L498.83 85.66L499.02 83.29L499.21 88.31L499.4 83.79L499.58 86.39L499.77 86.38L499.96 86.96L500.15 86.06L500.34 84.09L500.53 85.81L500.72 90.39L500.91 88.02L501.1 88.84L501.28 87.02L501.47 87.13L501.66 87.94L501.85 87.23L502.04 86.64L502.23 88.18L502.42 86.09L502.61 84.48L502.8 88.26L502.98 89.29L503.17 93.05L503.36 89.55L503.55 92.4L503.74 93.12L503.93 89.35L504.12 90.61L504.31 89.34L504.5 88.25L504.68 91.05L504.87 88.21L505.06 86.76L505.25 91.77L505.44 88.64L505.63 88.95L505.82 89.48L506.01 91.44L506.2 90.07L506.38 94.11L506.57 90.83L506.76 88.2L506.95 94.75L507.14 97.43L507.33 96.62L507.52 90.63L507.71 92.81L507.9 91.73L508.08 86.12L508.27 90.68L508.46 93.15L508.65 89.95L508.84 89.52L509.03 90.29L509.22 89.69L509.41 88.39L509.6 94.5L509.78 94.26L509.97 95.16L510.16 94.08L510.35 93.71L510.54 94.68L510.73 93.14L510.92 99.15L511.11 90.43L511.3 101.19L511.48 98.23L511.67 96.61L511.86 90.57L512.05 95.74L512.24 94.24L512.43 94.58L512.62 96.99L512.81 97.89L513 91.9L513.18 98.02L513.37 95.68L513.56 95.47L513.75 94.09L513.94 94.59L514.13 97.65L514.32 98.06L514.51 97.94L514.7 91.61L514.88 97.44L515.07 96.17L515.26 96L515.45 98.87L515.64 95.47L515.83 100.19L516.02 98.07L516.21 96.97L516.4 93.86L516.58 95.44L516.77 98.39L516.96 92.28L517.15 95.98L517.34 100.61L517.53 97.11L517.72 99.17L517.91 104.21L518.1 100.85L518.28 94.28L518.47 95.27L518.66 96.56L518.85 98.03L519.04 98.86L519.23 99.93L519.42 97.85L519.61 98.68L519.8 101.43L519.98 103.58L520.17 99.93L520.36 99.65L520.55 101.13L520.74 97.78L520.93 100.21L521.12 102.4L521.31 100.4L521.5 100.93L521.68 101.52L521.87 99.22L522.06 99.72L522.25 103.83L522.44 99.02L522.63 100.93L522.82 104.98L523.01 103.17L523.2 102.66L523.38 100.59L523.57 100.43L523.76 98.99L523.95 92.2L524.14 104.31L524.33 101.85L524.52 106.03L524.71 104.38L524.9 102.73L525.08 102.88L525.27 101.77L525.46 99.86L525.65 103.75L525.84 102.63L526.03 105.38L526.22 105.16L526.41 104.52L526.6 103.31L526.78 105.02L526.97 104.61L527.16 102.03L527.35 101.03L527.54 103.12L527.73 108.35L527.92 105.74L528.11 105.19L528.3 103.67L528.48 105.55L528.67 104.53L528.86 106.68L529.05 107.62L529.24 101.87L529.43 106.82L529.62 108.35L529.81 106.46L530 106.37L530.18 104.62L530.37 103.06L530.56 102.8L530.75 111.45L530.94 105.97L531.13 104.82L531.32 104.07L531.51 108.58L531.7 107.56L531.88 109.32L532.07 104.99L532.26 106.61L532.45 114.52L532.64 102.96L532.83 106.22L533.02 106.42L533.21 112.35L533.4 113.97L533.58 109.87L533.77 113.52L533.96 115.19L534.15 110.73L534.34 105.44L534.53 108.11L534.72 108.34L534.91 104.13L535.1 110.7L535.28 110.59L535.47 107.39L535.66 110.85L535.85 109.62L536.04 107.64L536.23 105.97L536.42 107.42L536.61 111.03L536.8 106.42L536.98 111.83L537.17 112.78L537.36 111.49L537.55 108.78L537.74 112.72L537.93 111.34L538.12 113.88L538.31 112.16L538.5 114.89L538.68 112.39L538.87 108.26L539.06 113.47L539.25 108.38L539.44 114.76L539.63 117.56L539.82 110.57L540.01 108.43L540.2 116.71L540.38 111.91L540.57 110.23L540.76 111.81L540.95 111.66L541.14 117.02L541.33 117.35L541.52 115.94L541.71 119.35L541.9 109.84L542.08 112.06L542.27 111.5L542.46 115.28L542.65 118.65L542.84 116.46L543.03 115.33L543.22 112.3L543.41 114.96L543.6 117.28L543.78 119.35L543.97 115.44L544.16 116L544.35 114.94L544.54 110.03L544.73 119.69L544.92 112.98L545.11 111.49L545.3 111.57L545.48 114.83L545.67 109.9L545.86 120.76L546.05 119.69L546.24 115.05L546.43 117.83L546.62 117.61L546.81 117.95L547 124.4L547.18 113.24L547.37 116.38L547.56 114.91L547.75 114.02L547.94 112.6L548.13 116.8L548.32 115.94L548.51 114.95L548.7 121.07L548.88 118.99L549.07 113.53L549.26 118.65L549.45 117.23L549.64 120.75L549.83 115.97L550.02 116.53L550.21 119.48L550.4 116.87L550.58 117.15L550.77 115.8L550.96 118.31L551.15 115.39L551.34 122.55L551.53 121.59L551.72 123.04L551.91 121.65L552.1 119.27L552.28 121.19L552.47 127.04L552.66 115.7L552.85 116.87L553.04 122.05L553.23 123.86L553.42 122.26L553.61 119.43L553.8 121.3L553.98 115.81L554.17 117.22L554.36 121.85L554.55 125.11L554.74 131.79L554.93 119.82L555.12 117.21L555.31 120.32L555.5 127.32L555.69 127.78L555.87 123.34L556.06 118.17L556.25 121.42L556.44 119.98L556.63 119.89L556.82 124.08L557.01 118.24L557.2 120.42L557.39 119.31L557.57 123.16L557.76 118.04L557.95 121.84L558.14 123.1L558.33 127.45L558.52 127.42L558.71 121.25L558.9 124.85L559.09 123.2L559.27 122.84L559.46 124.17L559.65 124.24L559.84 121L560.03 126.04L560.22 126.62L560.41 128.45L560.6 131.35L560.79 127.84L560.97 121.07L561.16 127.17L561.35 120.32L561.54 122.83L561.73 125.8L561.92 122.25L562.11 127.18L562.3 131.69L562.49 128.53L562.67 129.63L562.86 127.72L563.05 132.36L563.24 129.49L563.43 123.54L563.62 126.24L563.81 128.23L564 128.41L564.19 128.66L564.37 124.78L564.56 124.68L564.75 130.31L564.94 121.51L565.13 121.21L565.32 129.72L565.51 126.87L565.7 132.62L565.89 127.45L566.07 130.15L566.26 124.84L566.45 129.03L566.64 127.99L566.83 127.45L567.02 121.51L567.21 123.59L567.4 128.83L567.59 128.55L567.77 131.47L567.96 123.45L568.15 128.44L568.34 124.6L568.53 130.7L568.72 126.71L568.91 127.38L569.1 134.62L569.29 128.81L569.47 130.28L569.66 124.36L569.85 127.04L570.04 133.2L570.23 127.92L570.42 141.26L570.61 123.63L570.8 129.88L570.99 136.33L571.17 126.72L571.36 138.46L571.55 130.71L571.74 128.75L571.93 132.71L572.12 134.53L572.31 135.54L572.5 135.51L572.69 131.51L572.87 138.66L573.06 133.89L573.25 136.52L573.44 135.91L573.63 133.27L573.82 140.95L574.01 130.41L574.2 135.21L574.39 126.52L574.57 127.32L574.76 132.08L574.95 134.46L575.14 132.49L575.33 128.54L575.52 135.57L575.71 142.66L575.9 142.83L576.09 137.89L576.27 136.07L576.46 138.73L576.65 137.08L576.84 143.7L577.03 140.35L577.22 141.01L577.41 136.67L577.6 129.8L577.79 140.29L577.97 139.56L578.16 128.41L578.35 141.89L578.54 135.25L578.73 136.8L578.92 134.44L579.11 135.29L579.3 144.62L579.49 138L579.67 130.42L579.86 135.84L580.05 131.45L580.24 131.41L580.43 145.68L580.62 135.24L580.81 136.33L581 143.36L581.19 132.7L581.37 140.72L581.56 138.59L581.75 132.17L581.94 133.81L582.13 139.18L582.32 137.02L582.51 135.96L582.7 144.2L582.89 140.62L583.07 137.09L583.26 138.21L583.45 144.45L583.64 147.66L583.83 142.15L584.02 147.48L584.21 144.82L584.4 143.14L584.59 145.48L584.77 135.51L584.96 158.83L585.15 150.5L585.34 146L585.53 144.6L585.72 145.7L585.91 136.67L586.1 144L586.29 143.51L586.47 143.11L586.66 153.26L586.85 141.64L587.04 149.47L587.23 139.55L587.42 139.78L587.61 142.03L587.8 146.56L587.99 142.75L588.17 143.52L588.36 139.76L588.55 150.95L588.74 139.15L588.93 144.66L589.12 138.68L589.31 141.38L589.5 143.77L589.69 145.7L589.87 139.02L590.06 142.12L590.25 138.76L590.44 140.78L590.63 145.15L590.82 146.23L591.01 152.67L591.2 138.84L591.39 149.01L591.57 148.03L591.76 138.19L591.95 139.67L592.14 142.71L592.33 145.87L592.52 143.56L592.71 142.43L592.9 149.34L593.09 151.66L593.27 145.03L593.46 146.62L593.65 153.52L593.84 139.13L594.03 149.56L594.22 137.14L594.41 139.49L594.6 137.56L594.79 141.29L594.97 145.19L595.16 143.18L595.35 144.36L595.54 153.56L595.73 147.5L595.92 152.42L596.11 141.73L596.3 138.52L596.49 148.24L596.67 152.26L596.86 159.72L597.05 149.96L597.24 144.91L597.43 153.35L597.62 152.76L597.81 147.96L598 142.99L598.19 154.22L598.37 145.58L598.56 158.5L598.75 169.07L598.94 145.71L599.13 149.46L599.32 142.42L599.51 159.26L599.7 145.25L599.89 149.74L600.07 145.58L600.26 148.44L600.45 144.05L600.64 150.33L600.83 150L601.02 156.09L601.21 150.66L601.4 153.46L601.59 143.96L601.77 153.79L601.96 151.93L602.15 156.07L602.34 151.8L602.53 152.27L602.72 156.43L602.91 150.77L603.1 152.53L603.29 156.82L603.47 154.28L603.66 154.08L603.85 148.16L604.04 160.62L604.23 140L604.42 156.77L604.61 154.78L604.8 160.77L604.99 151.11L605.17 159.7L605.36 160.76L605.55 151.9L605.74 149.82L605.93 152.27L606.12 159L606.31 149.72L606.5 158.39L606.69 151.94L606.87 147.57L607.06 162.7L607.25 146.82L607.44 160.62L607.63 151.13L607.82 156.33L608.01 152.29L608.2 157.82L608.39 154.46L608.57 158.18L608.76 150.93L608.95 145.52L609.14 158.06L609.33 157.65L609.52 156.93L609.71 157.53L609.9 170.8L610.09 152.19L610.27 152.65L610.46 155.71L610.65 158.64L610.84 157.64L611.03 165.29L611.22 147.4L611.41 164.94L611.6 151.05L611.79 156.78L611.97 170.77L612.16 156.59L612.35 153.96L612.54 158.35L612.73 174.45L612.92 164.64L613.11 158.01L613.3 163.6L613.49 162.77L613.67 152.42L613.86 167.6L614.05 164.98L614.24 172.39L614.43 145.23L614.62 153.53L614.81 164.96L615 161.1L615.19 153.93L615.37 160.09L615.56 157.13L615.75 170.74L615.94 152.35L616.13 164.61L616.32 162.82L616.51 154.2L616.7 159.29L616.89 154.1L617.07 165.83L617.26 166.81L617.45 158.5L617.64 163.29L617.83 160.52L618.02 163.12L618.21 162.81L618.4 157.15L618.59 162.85L618.77 166.85L618.96 158.19L619.15 172.11L619.34 163L619.53 168.27L619.72 159.21L619.91 162.27L620.1 163.86L620.29 156.52L620.47 162.26L620.66 169.21L620.85 162.48L621.04 155.19L621.23 166.42L621.42 153.57L621.61 153.79L621.8 167.62L621.99 159.3L622.17 170.58L622.36 162.04L622.55 167.93L622.74 156.2L622.93 166.22L623.12 163.4L623.31 163.58L623.5 169.73L623.69 168.37L623.88 167.86L624.06 160.94L624.25 161.29L624.44 170.55L624.63 156.37L624.82 167.43L625.01 154.6L625.2 168.64L625.39 165.94L625.58 172.99L625.76 153.49L625.95 157.17L626.14 160L626.33 158.47L626.52 168.52L626.71 170.32L626.9 153.56L627.09 162.69L627.28 167.98L627.46 179.1L627.65 172.48L627.84 170.78L628.03 173.79L628.22 163.53L628.41 187.39L628.6 167.59L628.79 161.53L628.98 174.89L629.16 179.75L629.35 157.24L629.54 179.11L629.73 174.65L629.92 177.16L630.11 170.92L630.3 160.65L630.49 151.81L630.68 159.56L630.86 166L631.05 167.14L631.24 169.23L631.43 176.91L631.62 175.71L631.81 157.31L632 174.95L632.19 180.6L632.38 150.69L632.56 170.14L632.75 167.86L632.94 174.15L633.13 170.03L633.32 185.72L633.51 168.06L633.7 171.56L633.89 169.43L634.08 166.82L634.26 173.09L634.45 147.22L634.64 181.84L634.83 167.49L635.02 174.1L635.21 179.49L635.4 168.65L635.59 168.99L635.78 170.02L635.96 167.52L636.15 166.11L636.34 166.34L636.53 180.09L636.72 156.29L636.91 174.85L637.1 172.2L637.29 184.03L637.48 155.12L637.66 182.26L637.85 176.78L638.04 179.33L638.23 173.94L638.42 170.82L638.61 169.41L638.8 171.76L638.99 172.78L639.18 191.03L639.36 188.71L639.55 191.54L639.74 171.04L639.93 183.87L640.12 171.68L640.31 168.34L640.5 173.19L640.69 173.39L640.88 183.75L641.06 177.11L641.25 183.53L641.44 185.11L641.63 174.53L641.82 164.09L642.01 181.13L642.2 173.93L642.39 168.94L642.58 187.82L642.76 175.86L642.95 162.73L643.14 180.97L643.33 169.26L643.52 167.62L643.71 169.54L643.9 193.5L644.09 199.19L644.28 168.98L644.46 174.18L644.65 178.35L644.84 171.92L645.03 192.71L645.22 184.47L645.41 177.58L645.6 188.46L645.79 176.41L645.98 177.23L646.16 168.99L646.35 183.44L646.54 179.22L646.73 158.57L646.92 189.63L647.11 169.6L647.3 172.32L647.49 181.2L647.68 193.5L647.86 193.5L648.05 189.87L648.24 191.31L648.43 174.47L648.62 181.63L648.81 170.65L649 179.25L649.19 171.99L649.38 179.45L649.56 180.99L649.75 182.86L649.94 172.35L650.13 174.91L650.32 163.12L650.51 172.3L650.7 168.7L650.89 179.16L651.08 185.55L651.26 182.91L651.45 196.2L651.64 174.78L651.83 183.03L652.02 199.87L652.21 193.5L652.4 181.31L652.59 172.87L652.78 178.47L652.96 185.14L653.15 171.91L653.34 196.2L653.53 172.45L653.72 179.47L653.91 184.23L654.1 181.34L654.29 193.5L654.48 177.9L654.66 177.19L654.85 188.41L655.04 180.84L655.23 184.96L655.42 191.03L655.61 175.48L655.8 196.2L655.99 175.84L656.18 191.44L656.36 167.24L656.55 171.5L656.74 180.07L656.93 192.18L657.12 189.1L657.31 176.75L657.5 185.03L657.69 177.17L657.88 172.37L658.06 185.33L658.25 187.22L658.44 176.45L658.63 174.29L658.82 190.31L659.01 185.25L659.2 196.2L659.39 179.78L659.58 182.93L659.76 202.53L659.95 193.5L660.14 197L660.33 206.32L660.52 168.87L660.71 191.21L660.9 180.73L661.09 176.59L661.28 186.17L661.46 194.6L661.65 177.66L661.84 196.21L662.03 181.65L662.22 182.52L662.41 196.2L662.6 175.35L662.79 182.97L662.98 184.6L663.16 191.03L663.35 191.03L663.54 174.77L663.73 180.67L663.92 179.34L664.11 202.53L664.3 186.07L664.49 196.2L664.68 193.5L664.86 185.8L665.05 184.54L665.24 185.33L665.43 190.36L665.62 197.44L665.81 192.68L666 189.68L666.19 193.5L666.38 193.5L666.56 215.86L666.75 193.19L666.94 191.03L667.13 191.03L667.32 184.26L667.51 206.32L667.7 193.5L667.89 191.03L668.08 196.2L668.26 188.24L668.45 191.03L668.64 174.98L668.83 173.24L669.02 186.27L669.21 185.53L669.4 198.14L669.59 191.03L669.78 230.34L669.96 173.7L670.15 193.5L670.34 185.38L670.53 194.57L670.72 191.14L670.91 191.03L671.1 189.18L671.29 182.9L671.48 200.41L671.66 206.32L671.85 206.32L672.04 193.5L672.23 206.32L672.42 191.03L672.61 196.2L672.8 206.32L672.99 193.5L673.18 186.14L673.36 199.19L673.55 191.03L673.74 191.03L673.93 188.96L674.12 196.2L674.31 196.2L674.5 206.32L674.69 193.5L674.88 196.2L675.06 191.03L675.25 196.2L675.44 202.53L675.63 215.86L675.82 199.19L676.01 199.19L676.2 193.5L676.39 215.86L676.58 196.2L676.76 202.53L676.95 191.03L677.14 199.19L677.33 193.69L677.52 196.2L677.71 199.19L677.9 193.5L678.09 191.03L678.28 199.19L678.46 222.19L678.65 215.86L678.84 195.01L679.03 202.53L679.22 222.19L679.41 196.2L679.6 202.53L679.79 210.69L679.98 191.03L680.16 210.69L680.35 193.5L680.54 196.2L680.73 193.5L680.92 215.86L681.11 204.77L681.3 206.32L681.49 191.03L681.68 202.53L681.86 196.2L682.05 199.19L682.24 191.03L682.43 202.53L682.62 191.03L682.81 202.53L683 193.5L683.19 193.5L683.38 196.2L683.56 199.19L683.75 199.19L683.94 196.2L684.13 199.19L684.32 202.53L684.51 196.2L684.7 195.79L684.89 202.53L685.08 169.23L685.26 199.19L685.45 199.19L685.64 210.69L685.83 196.2L686.02 172.88L686.21 196.2L686.4 202.53L686.59 202.53L686.78 196.2L686.96 199.19L687.15 230.34L687.34 210.69L687.53 199.19L687.72 196.2L687.91 199.19L688.1 206.32L688.29 199.19L688.48 215.86L688.66 202.53L688.85 210.69L689.04 206.32L689.23 196.2L689.42 206.32L689.61 215.86L689.8 196.2L689.99 210.69L690.18 199.19L690.36 180.88L690.55 202.53L690.74 199.19L690.93 191.03L691.12 196.2L691.31 210.69L691.5 210.69L691.69 202.53L691.88 222.19L692.07 202.53L692.25 202.53L692.44 191.03L692.63 206.32L692.82 222.19L693.01 206.32L693.2 215.86L693.39 210.69L693.58 230.34L693.77 199.19L693.95 196.2L694.14 210.69L694.33 222.19L694.52 199.19L694.71 202.53L694.9 222.19L695.09 202.53L695.28 191.03L695.47 222.19L695.65 196.2L695.84 199.19L696.03 210.69L696.22 193.5L696.41 199.19L696.6 215.86L696.79 199.19L696.98 206.32L697.17 210.69L697.35 210.69L697.54 210.69L697.73 202.53L697.92 215.86L698.11 202.53L698.3 193.5L698.49 230.34L698.68 215.86L698.87 210.69L699.05 215.86L699.24 210.69L699.43 215.86L699.62 202.53L699.81 199.19L700 202.53L700.19 199.19L700.38 199.19L700.57 199.19L700.75 191.03L700.94 206.32L701.13 206.32L701.32 215.86L701.51 210.69L701.7 206.32L701.89 210.69L702.08 215.86L702.27 199.19L702.45 199.19L702.64 210.69L702.83 222.19L703.02 215.86L703.21 241.84L703.4 215.86L703.59 210.69L703.78 222.19L703.97 241.84L704.15 196.2L704.34 202.53L704.53 206.32L704.72 202.53L704.91 202.53L705.1 215.86L705.29 206.32L705.48 196.2L705.67 241.84L705.85 206.32L706.04 241.84L706.23 196.2L706.42 210.69L706.61 210.69L706.8 210.69L706.99 210.69L707.18 241.84L707.37 202.53L707.55 215.86L707.74 215.86L707.93 222.19L708.12 261.5L708.31 222.19L708.5 210.69L708.69 206.32L708.88 215.86L709.07 210.69L709.25 210.69L709.44 206.32L709.63 241.84L709.82 215.86L710.01 210.69L710.2 206.32L710.39 215.86L710.58 196.2L710.77 222.19L710.95 206.32L711.14 199.19L711.33 230.34L711.52 210.69L711.71 215.86L711.9 241.84L712.09 215.86L712.28 199.19L712.47 206.32L712.65 230.34L712.84 206.32L713.03 206.32L713.22 215.86L713.41 206.32L713.6 210.69L713.79 230.34L713.98 222.19L714.17 202.53L714.35 215.86L714.54 222.19L714.73 241.84L714.92 215.86L715.11 210.69L715.3 215.86L715.49 230.34L715.68 230.34L715.87 215.86L716.05 210.69L716.24 241.84L716.43 215.86L716.62 206.32L716.81 222.19L717 241.84L717.19 215.86L717.38 222.19L717.57 241.84L717.75 230.34L717.94 261.5L718.13 210.69L718.32 241.84L718.51 206.32L718.7 222.19L719.08 215.86L719.27 206.32L719.45 230.34L719.64 215.86L719.83 241.84L720.02 241.84L720.21 230.34L720.4 196.2L720.59 222.19L720.78 222.19L720.97 206.32L721.15 202.53L721.34 222.19L721.53 222.19L721.72 210.69L721.91 230.34L722.1 222.19L722.29 202.53L722.48 210.69L722.67 230.34L722.85 206.32L723.04 222.19L723.23 206.32L723.42 222.19L723.61 230.34L723.8 215.86L723.99 222.19L724.18 230.34L724.37 222.19L724.55 215.86L724.74 230.34L724.93 215.86L725.12 230.34L725.31 230.34L725.5 210.69L725.69 241.84L725.88 215.86L726.07 215.86L726.25 230.34L726.44 202.53L726.63 199.19L726.82 215.86L727.01 230.34L727.2 206.32L727.39 222.19L727.58 210.69L727.95 215.86L728.14 222.19L728.33 222.19L728.52 206.32L728.71 210.69L728.9 222.19L729.09 215.86L729.28 210.69L729.47 230.34L729.65 202.53L729.84 191.03L730.03 230.34L730.22 210.69L730.41 206.32L730.6 222.19L730.98 202.53L731.17 199.19L731.35 215.86L731.54 230.34L731.73 215.86L731.92 199.19L732.11 241.84L732.3 230.34L732.49 241.84L732.68 210.69L732.87 222.19L733.05 215.86L733.24 230.34L733.43 261.5L733.62 215.86L733.81 222.19L734 230.34L734.19 206.32L734.38 261.5L734.57 210.69L734.75 199.19L734.94 241.84L735.13 202.53L735.32 241.84L735.51 215.86L735.7 222.19L735.89 241.84L736.08 230.34L736.27 202.53L736.45 241.84L736.64 210.69L736.83 222.19L737.02 230.34L737.21 261.5L737.4 230.34L737.59 241.84L737.78 222.19L737.97 230.34L738.15 222.19L738.34 241.84L738.53 210.69L738.72 215.86L738.91 215.86L739.1 230.34L739.29 230.34L739.48 230.34L739.67 206.32L739.85 215.86L740.04 230.34L740.23 206.32L740.42 261.5L740.61 241.84L740.8 261.5L740.99 222.19L741.18 222.19L741.37 230.34L741.55 206.32L741.74 222.19L741.93 230.34L742.12 241.84L742.31 202.53L742.5 202.53L742.69 210.69L742.88 241.84L743.25 261.5L743.44 241.84L743.63 215.86L743.82 206.32L744.01 230.34L744.2 261.5L744.39 230.34L744.58 230.34L744.77 202.53L744.95 215.86L745.14 202.53L745.33 261.5L745.52 230.34L745.71 241.84L745.9 222.19L746.09 261.5L746.28 241.84L746.47 261.5L746.65 261.5L746.84 215.86L747.03 222.19L747.41 241.84L747.6 241.84L747.79 222.19L747.98 230.34L748.17 261.5L748.35 230.34L748.54 210.69L748.73 230.34L748.92 222.19L749.11 206.32L749.3 230.34L749.49 241.84L749.68 222.19L749.87 222.19L750.05 222.19L750.24 230.34L750.43 222.19L750.62 222.19L750.81 230.34L751 196.2L751.19 222.19L751.38 241.84L751.57 215.86L751.75 261.5L751.94 222.19L752.13 215.86L752.32 230.34L752.51 230.34L752.7 215.86L752.89 206.32L753.08 230.34L753.27 241.84L753.45 215.86L753.64 215.86L754.02 261.5L754.21 206.32L754.4 230.34L754.59 230.34" fill="none" stroke="none" marker-start="url(#mpk)" marker-mid="url(#mpk)" marker-end="url(#mpk)"/>
<circle cx="689.7" cy="53.6" r="3.6" fill="#8ed4f0"/><circle cx="688.8" cy="52.6" r="1" fill="#dcf2fb"/>
<circle cx="689.7" cy="73.9" r="3.6" fill="#e9a5c3"/><circle cx="688.8" cy="72.9" r="1" fill="#f8e0ea"/>
<text x="700.8" y="59.8" font-size="18" text-anchor="start" >CP1</text>
<text x="700.8" y="79.9" font-size="18" text-anchor="start" >CP2</text>
<text x="582" y="103.6" font-size="18"><tspan font-family="Liberation Serif, serif" font-style="italic" font-size="19">&#964;</tspan><tspan font-size="13.5" dy="4.5">1</tspan><tspan dy="-4.5"> = 5.19 </tspan><tspan font-family="Liberation Serif, serif">&#956;</tspan>s</text>
<text x="604.9" y="126.3" font-size="18"><tspan font-family="Liberation Serif, serif" font-style="italic" font-size="19">&#964;</tspan><tspan font-size="13.5" dy="4.5">2</tspan><tspan dy="-4.5"> = 5.16 </tspan><tspan font-family="Liberation Serif, serif">&#956;</tspan>s</text>
<defs>
<linearGradient id="gx" x1="0" y1="0" x2="1" y2="0"><stop offset="0" stop-color="rgb(0,0,0)"/><stop offset="0.01" stop-color="rgb(0,0,0)"/><stop offset="0.03" stop-color="rgb(0,0,0)"/><stop offset="0.04" stop-color="rgb(0,0,0)"/><stop offset="0.05" stop-color="rgb(0,0,0)"/><stop offset="0.06" stop-color="rgb(0,0,0)"/><stop offset="0.07" stop-color="rgb(0,0,0)"/><stop offset="0.09" stop-color="rgb(0,0,0)"/><stop offset="0.1" stop-color="rgb(0,0,0)"/><stop offset="0.11" stop-color="rgb(0,0,0)"/><stop offset="0.12" stop-color="rgb(1,1,1)"/><stop offset="0.14" stop-color="rgb(1,1,1)"/><stop offset="0.15" stop-color="rgb(1,1,1)"/><stop offset="0.16" stop-color="rgb(2,2,2)"/><stop offset="0.17" stop-color="rgb(2,2,2)"/><stop offset="0.19" stop-color="rgb(3,3,3)"/><stop offset="0.2" stop-color="rgb(4,4,4)"/><stop offset="0.21" stop-color="rgb(5,5,5)"/><stop offset="0.23" stop-color="rgb(6,6,6)"/><stop offset="0.24" stop-color="rgb(8,8,8)"/><stop offset="0.25" stop-color="rgb(10,10,10)"/><stop offset="0.26" stop-color="rgb(13,13,13)"/><stop offset="0.28" stop-color="rgb(16,16,16)"/><stop offset="0.29" stop-color="rgb(19,19,19)"/><stop offset="0.3" stop-color="rgb(24,24,24)"/><stop offset="0.31" stop-color="rgb(29,29,29)"/><stop offset="0.33" stop-color="rgb(35,35,35)"/><stop offset="0.34" stop-color="rgb(41,41,41)"/><stop offset="0.35" stop-color="rgb(49,49,49)"/><stop offset="0.36" stop-color="rgb(57,57,57)"/><stop offset="0.38" stop-color="rgb(67,67,67)"/><stop offset="0.39" stop-color="rgb(77,77,77)"/><stop offset="0.4" stop-color="rgb(89,89,89)"/><stop offset="0.41" stop-color="rgb(101,101,101)"/><stop offset="0.42" stop-color="rgb(113,113,113)"/><stop offset="0.44" stop-color="rgb(127,127,127)"/><stop offset="0.45" stop-color="rgb(141,141,141)"/><stop offset="0.46" stop-color="rgb(155,155,155)"/><stop offset="0.47" stop-color="rgb(169,169,169)"/><stop offset="0.49" stop-color="rgb(182,182,182)"/><stop offset="0.5" stop-color="rgb(196,196,196)"/><stop offset="0.51" stop-color="rgb(208,208,208)"/><stop offset="0.53" stop-color="rgb(220,220,220)"/><stop offset="0.54" stop-color="rgb(230,230,230)"/><stop offset="0.55" stop-color="rgb(239,239,239)"/><stop offset="0.56" stop-color="rgb(246,246,246)"/><stop offset="0.57" stop-color="rgb(251,251,251)"/><stop offset="0.59" stop-color="rgb(254,254,254)"/><stop offset="0.6" stop-color="rgb(255,255,255)"/><stop offset="0.61" stop-color="rgb(254,254,254)"/><stop offset="0.62" stop-color="rgb(252,252,252)"/><stop offset="0.64" stop-color="rgb(249,249,249)"/><stop offset="0.65" stop-color="rgb(244,244,244)"/><stop offset="0.66" stop-color="rgb(238,238,238)"/><stop offset="0.68" stop-color="rgb(231,231,231)"/><stop offset="0.69" stop-color="rgb(222,222,222)"/><stop offset="0.7" stop-color="rgb(213,213,213)"/><stop offset="0.71" stop-color="rgb(204,204,204)"/><stop offset="0.72" stop-color="rgb(193,193,193)"/><stop offset="0.74" stop-color="rgb(182,182,182)"/><stop offset="0.75" stop-color="rgb(171,171,171)"/><stop offset="0.76" stop-color="rgb(159,159,159)"/><stop offset="0.78" stop-color="rgb(148,148,148)"/><stop offset="0.79" stop-color="rgb(136,136,136)"/><stop offset="0.8" stop-color="rgb(125,125,125)"/><stop offset="0.81" stop-color="rgb(114,114,114)"/><stop offset="0.82" stop-color="rgb(103,103,103)"/><stop offset="0.84" stop-color="rgb(93,93,93)"/><stop offset="0.85" stop-color="rgb(84,84,84)"/><stop offset="0.86" stop-color="rgb(75,75,75)"/><stop offset="0.88" stop-color="rgb(66,66,66)"/><stop offset="0.89" stop-color="rgb(58,58,58)"/><stop offset="0.9" stop-color="rgb(51,51,51)"/><stop offset="0.91" stop-color="rgb(45,45,45)"/><stop offset="0.93" stop-color="rgb(39,39,39)"/><stop offset="0.94" stop-color="rgb(33,33,33)"/><stop offset="0.95" stop-color="rgb(29,29,29)"/><stop offset="0.96" stop-color="rgb(25,25,25)"/><stop offset="0.97" stop-color="rgb(21,21,21)"/><stop offset="0.99" stop-color="rgb(18,18,18)"/><stop offset="1" stop-color="rgb(15,15,15)"/></linearGradient>
<linearGradient id="gy" x1="0" y1="0" x2="0" y2="1"><stop offset="0" stop-color="rgb(242,242,242)"/><stop offset="0.03" stop-color="rgb(244,244,244)"/><stop offset="0.09" stop-color="rgb(250,250,250)"/><stop offset="0.16" stop-color="rgb(255,255,255)"/><stop offset="0.23" stop-color="rgb(250,250,250)"/><stop offset="0.29" stop-color="rgb(244,244,244)"/><stop offset="0.32" stop-color="rgb(238,238,238)"/><stop offset="0.41" stop-color="rgb(228,228,228)"/><stop offset="0.48" stop-color="rgb(213,213,213)"/><stop offset="0.55" stop-color="rgb(194,194,194)"/><stop offset="0.59" stop-color="rgb(182,182,182)"/><stop offset="0.67" stop-color="rgb(173,173,173)"/><stop offset="0.79" stop-color="rgb(172,172,172)"/><stop offset="0.85" stop-color="rgb(158,158,158)"/><stop offset="0.89" stop-color="rgb(138,138,138)"/><stop offset="0.93" stop-color="rgb(115,115,115)"/><stop offset="0.96" stop-color="rgb(148,148,148)"/><stop offset="1" stop-color="rgb(196,196,196)"/></linearGradient>
<filter id="jet" x="0" y="0" width="1" height="1" color-interpolation-filters="sRGB"><feComponentTransfer><feFuncR type="discrete" tableValues="0 0 0 0 0 0 0 0 0 0 0 0 0 0 0 0 0 0 0 0 0 0 0 0 0.04 0.12 0.21 0.29 0.38 0.46 0.54 0.62 0.71 0.79 0.88 0.96 1 1 1 1 1 1 1 1 1 1 1 1"/><feFuncG type="discrete" tableValues="0.04 0.12 0.21 0.29 0.38 0.46 0.54 0.62 0.71 0.79 0.88 0.96 1 1 1 1 1 1 1 1 1 1 1 1 1 1 1 1 1 1 1 1 1 1 1 1 0.96 0.88 0.79 0.71 0.62 0.54 0.46 0.38 0.29 0.21 0.12 0.04"/><feFuncB type="discrete" tableValues="1 1 1 1 1 1 1 1 1 1 1 1 0.96 0.88 0.79 0.71 0.62 0.54 0.46 0.38 0.29 0.21 0.12 0.04 0 0 0 0 0 0 0 0 0 0 0 0 0 0 0 0 0 0 0 0 0 0 0 0"/></feComponentTransfer></filter>
<linearGradient id="cbar" x1="0" y1="1" x2="0" y2="0"><stop offset="0" stop-color="rgb(0,11,255)"/><stop offset="0.02" stop-color="rgb(0,11,255)"/><stop offset="0.02" stop-color="rgb(0,32,255)"/><stop offset="0.04" stop-color="rgb(0,32,255)"/><stop offset="0.04" stop-color="rgb(0,53,255)"/><stop offset="0.06" stop-color="rgb(0,53,255)"/><stop offset="0.06" stop-color="rgb(0,74,255)"/><stop offset="0.08" stop-color="rgb(0,74,255)"/><stop offset="0.08" stop-color="rgb(0,96,255)"/><stop offset="0.1" stop-color="rgb(0,96,255)"/><stop offset="0.1" stop-color="rgb(0,117,255)"/><stop offset="0.12" stop-color="rgb(0,117,255)"/><stop offset="0.12" stop-color="rgb(0,138,255)"/><stop offset="0.15" stop-color="rgb(0,138,255)"/><stop offset="0.15" stop-color="rgb(0,159,255)"/><stop offset="0.17" stop-color="rgb(0,159,255)"/><stop offset="0.17" stop-color="rgb(0,181,255)"/><stop offset="0.19" stop-color="rgb(0,181,255)"/><stop offset="0.19" stop-color="rgb(0,202,255)"/><stop offset="0.21" stop-color="rgb(0,202,255)"/><stop offset="0.21" stop-color="rgb(0,223,255)"/><stop offset="0.23" stop-color="rgb(0,223,255)"/><stop offset="0.23" stop-color="rgb(0,244,255)"/><stop offset="0.25" stop-color="rgb(0,244,255)"/><stop offset="0.25" stop-color="rgb(0,255,244)"/><stop offset="0.27" stop-color="rgb(0,255,244)"/><stop offset="0.27" stop-color="rgb(0,255,223)"/><stop offset="0.29" stop-color="rgb(0,255,223)"/><stop offset="0.29" stop-color="rgb(0,255,202)"/><stop offset="0.31" stop-color="rgb(0,255,202)"/><stop offset="0.31" stop-color="rgb(0,255,181)"/><stop offset="0.33" stop-color="rgb(0,255,181)"/><stop offset="0.33" stop-color="rgb(0,255,159)"/><stop offset="0.35" stop-color="rgb(0,255,159)"/><stop offset="0.35" stop-color="rgb(0,255,138)"/><stop offset="0.38" stop-color="rgb(0,255,138)"/><stop offset="0.38" stop-color="rgb(0,255,117)"/><stop offset="0.4" stop-color="rgb(0,255,117)"/><stop offset="0.4" stop-color="rgb(0,255,96)"/><stop offset="0.42" stop-color="rgb(0,255,96)"/><stop offset="0.42" stop-color="rgb(0,255,74)"/><stop offset="0.44" stop-color="rgb(0,255,74)"/><stop offset="0.44" stop-color="rgb(0,255,53)"/><stop offset="0.46" stop-color="rgb(0,255,53)"/><stop offset="0.46" stop-color="rgb(0,255,32)"/><stop offset="0.48" stop-color="rgb(0,255,32)"/><stop offset="0.48" stop-color="rgb(0,255,11)"/><stop offset="0.5" stop-color="rgb(0,255,11)"/><stop offset="0.5" stop-color="rgb(11,255,0)"/><stop offset="0.52" stop-color="rgb(11,255,0)"/><stop offset="0.52" stop-color="rgb(32,255,0)"/><stop offset="0.54" stop-color="rgb(32,255,0)"/><stop offset="0.54" stop-color="rgb(53,255,0)"/><stop offset="0.56" stop-color="rgb(53,255,0)"/><stop offset="0.56" stop-color="rgb(74,255,0)"/><stop offset="0.58" stop-color="rgb(74,255,0)"/><stop offset="0.58" stop-color="rgb(96,255,0)"/><stop offset="0.6" stop-color="rgb(96,255,0)"/><stop offset="0.6" stop-color="rgb(117,255,0)"/><stop offset="0.62" stop-color="rgb(117,255,0)"/><stop offset="0.62" stop-color="rgb(138,255,0)"/><stop offset="0.65" stop-color="rgb(138,255,0)"/><stop offset="0.65" stop-color="rgb(159,255,0)"/><stop offset="0.67" stop-color="rgb(159,255,0)"/><stop offset="0.67" stop-color="rgb(181,255,0)"/><stop offset="0.69" stop-color="rgb(181,255,0)"/><stop offset="0.69" stop-color="rgb(202,255,0)"/><stop offset="0.71" stop-color="rgb(202,255,0)"/><stop offset="0.71" stop-color="rgb(223,255,0)"/><stop offset="0.73" stop-color="rgb(223,255,0)"/><stop offset="0.73" stop-color="rgb(244,255,0)"/><stop offset="0.75" stop-color="rgb(244,255,0)"/><stop offset="0.75" stop-color="rgb(255,244,0)"/><stop offset="0.77" stop-color="rgb(255,244,0)"/><stop offset="0.77" stop-color="rgb(255,223,0)"/><stop offset="0.79" stop-color="rgb(255,223,0)"/><stop offset="0.79" stop-color="rgb(255,202,0)"/><stop offset="0.81" stop-color="rgb(255,202,0)"/><stop offset="0.81" stop-color="rgb(255,181,0)"/><stop offset="0.83" stop-color="rgb(255,181,0)"/><stop offset="0.83" stop-color="rgb(255,159,0)"/><stop offset="0.85" stop-color="rgb(255,159,0)"/><stop offset="0.85" stop-color="rgb(255,138,0)"/><stop offset="0.88" stop-color="rgb(255,138,0)"/><stop offset="0.88" stop-color="rgb(255,117,0)"/><stop offset="0.9" stop-color="rgb(255,117,0)"/><stop offset="0.9" stop-color="rgb(255,96,0)"/><stop offset="0.92" stop-color="rgb(255,96,0)"/><stop offset="0.92" stop-color="rgb(255,74,0)"/><stop offset="0.94" stop-color="rgb(255,74,0)"/><stop offset="0.94" stop-color="rgb(255,53,0)"/><stop offset="0.96" stop-color="rgb(255,53,0)"/><stop offset="0.96" stop-color="rgb(255,32,0)"/><stop offset="0.98" stop-color="rgb(255,32,0)"/><stop offset="0.98" stop-color="rgb(255,11,0)"/><stop offset="1" stop-color="rgb(255,11,0)"/></linearGradient>
</defs>
<g filter="url(#jet)"><rect x="853.6" y="38.4" width="251.80000000000007" height="242.79999999999998" fill="url(#gx)"/><rect x="853.6" y="38.4" width="251.80000000000007" height="242.79999999999998" fill="url(#gy)" style="mix-blend-mode:multiply"/></g>
<path d="M854.2,265L856.2,281.2H854.2Z" fill="#b00000"/>
<rect x="853.6" y="38.4" width="251.80000000000007" height="242.79999999999998" stroke="#000" stroke-width="1.45" fill="none"/>
<path d="M853.6,38.4h-4" stroke="#000" stroke-width="1.45" fill="none"/>
<text x="842.2" y="44.6" font-size="18" text-anchor="end" >400</text>
<path d="M853.6,119.33h-4" stroke="#000" stroke-width="1.45" fill="none"/>
<text x="842.2" y="125.53" font-size="18" text-anchor="end" >350</text>
<path d="M853.6,200.27h-4" stroke="#000" stroke-width="1.45" fill="none"/>
<text x="842.2" y="206.47" font-size="18" text-anchor="end" >300</text>
<path d="M853.6,281.2h-4" stroke="#000" stroke-width="1.45" fill="none"/>
<text x="842.2" y="287.4" font-size="18" text-anchor="end" >250</text>
<path d="M853.6,281.2v4" stroke="#000" stroke-width="1.45" fill="none"/>
<text x="853.6" y="307.3" font-size="18" text-anchor="middle" >400</text>
<path d="M916.55,281.2v4" stroke="#000" stroke-width="1.45" fill="none"/>
<text x="916.55" y="307.3" font-size="18" text-anchor="middle" >500</text>
<path d="M979.5,281.2v4" stroke="#000" stroke-width="1.45" fill="none"/>
<text x="979.5" y="307.3" font-size="18" text-anchor="middle" >600</text>
<path d="M1042.45,281.2v4" stroke="#000" stroke-width="1.45" fill="none"/>
<text x="1042.45" y="307.3" font-size="18" text-anchor="middle" >700</text>
<path d="M1105.4,281.2v4" stroke="#000" stroke-width="1.45" fill="none"/>
<text x="1105.4" y="307.3" font-size="18" text-anchor="middle" >800</text>
<text x="979.5" y="331" font-size="18" text-anchor="middle" >Wavelength (nm)</text>
<text transform="translate(799,156.4) rotate(-90)" font-size="18" text-anchor="middle">Excitation wavelength (nm)</text>
<rect x="1120.2" y="40.8" width="20.0" height="241.8" fill="url(#cbar)" stroke="#000" stroke-width="1.3"/>
<path d="M1140.2,40.8h4.5" stroke="#000" stroke-width="1.45" fill="none"/>
<text x="1153" y="47.1" font-size="18" text-anchor="start" >1.00</text>
<path d="M1140.2,71.03h4.5" stroke="#000" stroke-width="1.45" fill="none"/>
<text x="1153" y="77.33" font-size="18" text-anchor="start" >0.87</text>
<path d="M1140.2,101.25h4.5" stroke="#000" stroke-width="1.45" fill="none"/>
<text x="1153" y="107.55" font-size="18" text-anchor="start" >0.75</text>
<path d="M1140.2,131.48h4.5" stroke="#000" stroke-width="1.45" fill="none"/>
<text x="1153" y="137.78" font-size="18" text-anchor="start" >0.62</text>
<path d="M1140.2,161.7h4.5" stroke="#000" stroke-width="1.45" fill="none"/>
<text x="1153" y="168" font-size="18" text-anchor="start" >0.50</text>
<path d="M1140.2,191.93h4.5" stroke="#000" stroke-width="1.45" fill="none"/>
<text x="1153" y="198.23" font-size="18" text-anchor="start" >0.37</text>
<path d="M1140.2,222.15h4.5" stroke="#000" stroke-width="1.45" fill="none"/>
<text x="1153" y="228.45" font-size="18" text-anchor="start" >0.25</text>
<path d="M1140.2,252.38h4.5" stroke="#000" stroke-width="1.45" fill="none"/>
<text x="1153" y="258.68" font-size="18" text-anchor="start" >0.12</text>
<path d="M1140.2,282.6h4.5" stroke="#000" stroke-width="1.45" fill="none"/>
<text x="1153" y="288.9" font-size="18" text-anchor="start" >0.00</text>
<text x="1087.5" y="18.5" font-size="18" text-anchor="start" >Intensity (a.u.)</text>
<rect x="29.25" y="373.6" width="300.5" height="242.19999999999993" stroke="#000" stroke-width="1.45" fill="none"/>
<path d="M29.25,615.8v4" stroke="#000" stroke-width="1.45" fill="none"/>
<text x="29.2" y="641.8" font-size="18" text-anchor="middle" >400</text>
<path d="M66.81,615.8v2.5" stroke="#000" stroke-width="1.45" fill="none"/>
<path d="M104.38,615.8v4" stroke="#000" stroke-width="1.45" fill="none"/>
<text x="101.3" y="641.8" font-size="18" text-anchor="middle" >500</text>
<path d="M141.94,615.8v2.5" stroke="#000" stroke-width="1.45" fill="none"/>
<path d="M179.5,615.8v4" stroke="#000" stroke-width="1.45" fill="none"/>
<text x="175.6" y="641.8" font-size="18" text-anchor="middle" >600</text>
<path d="M217.06,615.8v2.5" stroke="#000" stroke-width="1.45" fill="none"/>
<path d="M254.62,615.8v4" stroke="#000" stroke-width="1.45" fill="none"/>
<text x="250.9" y="641.8" font-size="18" text-anchor="middle" >700</text>
<path d="M292.19,615.8v2.5" stroke="#000" stroke-width="1.45" fill="none"/>
<path d="M329.75,615.8v4" stroke="#000" stroke-width="1.45" fill="none"/>
<text x="328.1" y="641.8" font-size="18" text-anchor="middle" >800</text>
<text x="179.5" y="667" font-size="18" text-anchor="middle" >Wavelength (nm)</text>
<text transform="translate(19,476.8) rotate(-90)" font-size="18" text-anchor="middle">Intensity (a.u.)</text>
<text x="110" y="410" font-size="18" text-anchor="start" >80 K</text>
<text x="104.5" y="515" font-size="18" text-anchor="start" >300 K</text>
<path d="M125.75,414V490" stroke="#000" stroke-width="1.4"/><path d="M122.5,488L125.75,498L129,488Z" fill="#000"/>
<path d="M29.25,614.2 30.75,614.2 32.26,614.2 33.76,614.2 35.26,614.2 36.76,614.2 38.27,614.2 39.77,614.2 41.27,614.2 42.77,614.2 44.27,614.2 45.78,614.2 47.28,614.2 48.78,614.2 50.28,614.2 51.79,614.2 53.29,614.2 54.79,614.2 56.3,614.2 57.8,614.2 59.3,614.2 60.8,614.2 62.3,614.2 63.81,614.2 65.31,614.2 66.81,614.2 68.31,614.2 69.82,614.2 71.32,614.2 72.82,614.2 74.33,614.2 75.83,614.2 77.33,614.2 78.83,614.2 80.34,614.2 81.84,614.2 83.34,614.2 84.84,614.2 86.34,614.2 87.85,614.2 89.35,614.2 90.85,614.2 92.35,614.2 93.86,614.2 95.36,614.2 96.86,614.2 98.36,614.2 99.87,614.2 101.37,614.2 102.87,614.2 104.38,614.2 105.88,614.2 107.38,614.19 108.88,614.19 110.39,614.19 111.89,614.18 113.39,614.17 114.89,614.16 116.39,614.14 117.9,614.11 119.4,614.08 120.9,614.04 122.41,613.98 123.91,613.9 125.41,613.8 126.91,613.67 128.42,613.51 129.92,613.3 131.42,613.04 132.92,612.72 134.43,612.32 135.93,611.84 137.43,611.25 138.93,610.55 140.44,609.72 141.94,608.74 143.44,607.58 144.94,606.24 146.44,604.69 147.95,602.91 149.45,600.89 150.95,598.6 152.45,596.04 153.96,593.17 155.46,590 156.96,586.51 158.47,582.69 159.97,578.53 161.47,574.05 162.97,569.23 164.47,564.09 165.98,558.64 167.48,552.89 168.98,546.87 170.49,540.59 171.99,534.08 173.49,527.38 174.99,520.51 176.5,513.52 178,506.44 179.5,499.31 181,492.18 182.5,485.09 184.01,478.08 185.51,471.19 187.01,464.46 188.51,457.94 190.02,451.66 191.52,445.65 193.02,439.95 194.53,434.59 196.03,429.58 197.53,424.96 199.03,420.73 200.53,416.92 202.04,413.52 203.54,410.55 205.04,408.01 206.54,405.88 208.05,404.16 209.55,402.85 211.05,401.9 212.56,401.31 214.06,401.04 215.56,401.02 217.06,401.33 218.56,401.97 220.07,402.94 221.57,404.24 223.07,405.84 224.57,407.74 226.08,409.91 227.58,412.36 229.08,415.06 230.59,417.99 232.09,421.14 233.59,424.49 235.09,428.03 236.59,431.73 238.1,435.59 239.6,439.58 241.1,443.69 242.6,447.9 244.11,452.2 245.61,456.57 247.11,460.99 248.62,465.45 250.12,469.94 251.62,474.44 253.12,478.94 254.62,483.43 256.13,487.9 257.63,492.34 259.13,496.73 260.63,501.08 262.14,505.36 263.64,509.58 265.14,513.73 266.64,517.79 268.15,521.77 269.65,525.66 271.15,529.46 272.65,533.17 274.16,536.77 275.66,540.27 277.16,543.66 278.66,546.96 280.17,550.14 281.67,553.22 283.17,556.19 284.68,559.06 286.18,561.82 287.68,564.47 289.18,567.03 290.69,569.48 292.19,571.83 293.69,574.08 295.19,576.23 296.69,578.29 298.2,580.26 299.7,582.14 301.2,583.93 302.7,585.64 304.21,587.27 305.71,588.81 307.21,590.28 308.71,591.68 310.22,593.01 311.72,594.26 313.22,595.46 314.73,596.59 316.23,597.65 317.73,598.66 319.23,599.62 320.74,600.52 322.24,601.37 323.74,602.18 325.24,602.94 326.75,603.65 328.25,604.32 329.75,604.96" stroke="#fdd98f" stroke-width="1.6" fill="none"/>
<path d="M29.25,614.2 30.75,614.2 32.26,614.2 33.76,614.2 35.26,614.2 36.76,614.2 38.27,614.2 39.77,614.2 41.27,614.2 42.77,614.2 44.27,614.2 45.78,614.2 47.28,614.2 48.78,614.2 50.28,614.2 51.79,614.2 53.29,614.2 54.79,614.2 56.3,614.2 57.8,614.2 59.3,614.2 60.8,614.2 62.3,614.2 63.81,614.2 65.31,614.2 66.81,614.2 68.31,614.2 69.82,614.2 71.32,614.2 72.82,614.2 74.33,614.2 75.83,614.2 77.33,614.2 78.83,614.2 80.34,614.2 81.84,614.2 83.34,614.2 84.84,614.2 86.34,614.2 87.85,614.2 89.35,614.2 90.85,614.2 92.35,614.2 93.86,614.2 95.36,614.2 96.86,614.2 98.36,614.2 99.87,614.2 101.37,614.2 102.87,614.2 104.38,614.2 105.88,614.2 107.38,614.2 108.88,614.2 110.39,614.2 111.89,614.19 113.39,614.19 114.89,614.19 116.39,614.18 117.9,614.17 119.4,614.15 120.9,614.13 122.41,614.11 123.91,614.07 125.41,614.02 126.91,613.96 128.42,613.87 129.92,613.76 131.42,613.61 132.92,613.42 134.43,613.19 135.93,612.89 137.43,612.52 138.93,612.07 140.44,611.51 141.94,610.84 143.44,610.03 144.94,609.08 146.44,607.94 147.95,606.62 149.45,605.08 150.95,603.3 152.45,601.26 153.96,598.95 155.46,596.35 156.96,593.43 158.47,590.19 159.97,586.62 161.47,582.69 162.97,578.42 164.47,573.8 165.98,568.84 167.48,563.54 168.98,557.92 170.49,551.99 171.99,545.79 173.49,539.33 174.99,532.65 176.5,525.79 178,518.79 179.5,511.68 181,504.51 182.5,497.33 184.01,490.18 185.51,483.12 187.01,476.18 188.51,469.41 190.02,462.86 191.52,456.57 193.02,450.58 194.53,444.91 196.03,439.61 197.53,434.69 199.03,430.19 200.53,426.11 202.04,422.48 203.54,419.29 205.04,416.55 206.54,414.26 208.05,412.41 209.55,410.99 211.05,409.98 212.56,409.34 214.06,409.04 215.56,409.03 217.06,409.36 218.56,410.06 220.07,411.12 221.57,412.53 223.07,414.28 224.57,416.35 226.08,418.72 227.58,421.37 229.08,424.29 230.59,427.47 232.09,430.87 233.59,434.48 235.09,438.28 236.59,442.25 238.1,446.37 239.6,450.63 241.1,454.99 242.6,459.45 244.11,463.98 245.61,468.57 247.11,473.2 248.62,477.85 250.12,482.52 251.62,487.17 253.12,491.81 254.62,496.42 256.13,500.98 257.63,505.48 259.13,509.93 260.63,514.29 262.14,518.58 263.64,522.78 265.14,526.88 266.64,530.88 268.15,534.78 269.65,538.57 271.15,542.24 272.65,545.8 274.16,549.24 275.66,552.57 277.16,555.77 278.66,558.86 280.17,561.83 281.67,564.68 283.17,567.41 284.68,570.03 286.18,572.53 287.68,574.92 289.18,577.2 290.69,579.38 292.19,581.45 293.69,583.41 295.19,585.29 296.69,587.06 298.2,588.74 299.7,590.34 301.2,591.85 302.7,593.28 304.21,594.62 305.71,595.89 307.21,597.09 308.71,598.22 310.22,599.29 311.72,600.29 313.22,601.23 314.73,602.11 316.23,602.94 317.73,603.72 319.23,604.45 320.74,605.13 322.24,605.77 323.74,606.37 325.24,606.93 326.75,607.45 328.25,607.94 329.75,608.39" stroke="#f47748" stroke-width="1.6" fill="none"/>
<path d="M29.25,614.2 30.75,614.2 32.26,614.2 33.76,614.2 35.26,614.2 36.76,614.2 38.27,614.2 39.77,614.2 41.27,614.2 42.77,614.2 44.27,614.2 45.78,614.2 47.28,614.2 48.78,614.2 50.28,614.2 51.79,614.2 53.29,614.2 54.79,614.2 56.3,614.2 57.8,614.2 59.3,614.2 60.8,614.2 62.3,614.2 63.81,614.2 65.31,614.2 66.81,614.2 68.31,614.2 69.82,614.2 71.32,614.2 72.82,614.2 74.33,614.2 75.83,614.2 77.33,614.2 78.83,614.2 80.34,614.2 81.84,614.2 83.34,614.2 84.84,614.2 86.34,614.2 87.85,614.2 89.35,614.2 90.85,614.2 92.35,614.2 93.86,614.2 95.36,614.2 96.86,614.2 98.36,614.2 99.87,614.2 101.37,614.2 102.87,614.2 104.38,614.2 105.88,614.2 107.38,614.2 108.88,614.2 110.39,614.2 111.89,614.2 113.39,614.2 114.89,614.2 116.39,614.19 117.9,614.19 119.4,614.19 120.9,614.18 122.41,614.17 123.91,614.16 125.41,614.14 126.91,614.11 128.42,614.08 129.92,614.03 131.42,613.96 132.92,613.87 134.43,613.75 135.93,613.6 137.43,613.4 138.93,613.15 140.44,612.82 141.94,612.42 143.44,611.92 144.94,611.31 146.44,610.56 147.95,609.67 149.45,608.59 150.95,607.32 152.45,605.82 153.96,604.08 155.46,602.06 156.96,599.76 158.47,597.14 159.97,594.18 161.47,590.87 162.97,587.2 164.47,583.16 165.98,578.73 167.48,573.92 168.98,568.74 170.49,563.2 171.99,557.31 173.49,551.09 174.99,544.58 176.5,537.8 178,530.8 179.5,523.61 181,516.29 182.5,508.88 184.01,501.44 185.51,494.03 187.01,486.68 188.51,479.47 190.02,472.44 191.52,465.64 193.02,459.12 194.53,452.93 196.03,447.11 197.53,441.69 199.03,436.7 200.53,432.17 202.04,428.12 203.54,424.56 205.04,421.49 206.54,418.92 208.05,416.85 209.55,415.24 211.05,414.1 212.56,413.38 214.06,413.05 215.56,413.03 217.06,413.37 218.56,414.09 220.07,415.18 221.57,416.62 223.07,418.41 224.57,420.52 226.08,422.95 227.58,425.66 229.08,428.65 230.59,431.89 232.09,435.36 233.59,439.04 235.09,442.91 236.59,446.95 238.1,451.14 239.6,455.45 241.1,459.88 242.6,464.39 244.11,468.98 245.61,473.61 247.11,478.28 248.62,482.96 250.12,487.65 251.62,492.33 253.12,496.97 254.62,501.58 256.13,506.13 257.63,510.62 259.13,515.04 260.63,519.38 262.14,523.63 263.64,527.78 265.14,531.83 266.64,535.77 268.15,539.6 269.65,543.32 271.15,546.91 272.65,550.39 274.16,553.74 275.66,556.97 277.16,560.08 278.66,563.06 280.17,565.93 281.67,568.67 283.17,571.29 284.68,573.8 286.18,576.19 287.68,578.46 289.18,580.63 290.69,582.69 292.19,584.64 293.69,586.5 295.19,588.26 296.69,589.92 298.2,591.49 299.7,592.98 301.2,594.38 302.7,595.7 304.21,596.94 305.71,598.11 307.21,599.21 308.71,600.25 310.22,601.22 311.72,602.12 313.22,602.98 314.73,603.77 316.23,604.52 317.73,605.22 319.23,605.87 320.74,606.48 322.24,607.05 323.74,607.58 325.24,608.07 326.75,608.53 328.25,608.95 329.75,609.35" stroke="#d7302a" stroke-width="1.6" fill="none"/>
<path d="M29.25,614.2 30.75,614.2 32.26,614.2 33.76,614.2 35.26,614.2 36.76,614.2 38.27,614.2 39.77,614.2 41.27,614.2 42.77,614.2 44.27,614.2 45.78,614.2 47.28,614.2 48.78,614.2 50.28,614.2 51.79,614.2 53.29,614.2 54.79,614.2 56.3,614.2 57.8,614.2 59.3,614.2 60.8,614.2 62.3,614.2 63.81,614.2 65.31,614.2 66.81,614.2 68.31,614.2 69.82,614.2 71.32,614.2 72.82,614.2 74.33,614.2 75.83,614.2 77.33,614.2 78.83,614.2 80.34,614.2 81.84,614.2 83.34,614.2 84.84,614.2 86.34,614.2 87.85,614.2 89.35,614.2 90.85,614.2 92.35,614.2 93.86,614.2 95.36,614.2 96.86,614.2 98.36,614.2 99.87,614.2 101.37,614.2 102.87,614.2 104.38,614.2 105.88,614.2 107.38,614.2 108.88,614.2 110.39,614.2 111.89,614.2 113.39,614.19 114.89,614.19 116.39,614.18 117.9,614.18 119.4,614.17 120.9,614.15 122.41,614.13 123.91,614.1 125.41,614.07 126.91,614.01 128.42,613.95 129.92,613.86 131.42,613.74 132.92,613.59 134.43,613.39 135.93,613.15 137.43,612.84 138.93,612.45 140.44,611.98 141.94,611.41 143.44,610.71 144.94,609.88 146.44,608.89 147.95,607.72 149.45,606.35 150.95,604.76 152.45,602.93 153.96,600.85 155.46,598.48 156.96,595.82 158.47,592.84 159.97,589.54 161.47,585.9 162.97,581.92 164.47,577.6 165.98,572.93 167.48,567.94 168.98,562.61 170.49,556.99 171.99,551.07 173.49,544.9 174.99,538.49 176.5,531.89 178,525.14 179.5,518.26 181,511.31 182.5,504.34 184.01,497.38 185.51,490.49 187.01,483.7 188.51,477.08 190.02,470.66 191.52,464.48 193.02,458.58 194.53,453 196.03,447.78 197.53,442.93 199.03,438.48 200.53,434.45 202.04,430.85 203.54,427.7 205.04,424.99 206.54,422.72 208.05,420.89 209.55,419.48 211.05,418.47 212.56,417.84 214.06,417.54 215.56,417.52 217.06,417.83 218.56,418.47 220.07,419.45 221.57,420.75 223.07,422.35 224.57,424.25 226.08,426.43 227.58,428.87 229.08,431.56 230.59,434.48 232.09,437.62 233.59,440.95 235.09,444.46 236.59,448.13 238.1,451.95 239.6,455.89 241.1,459.94 242.6,464.07 244.11,468.29 245.61,472.56 247.11,476.87 248.62,481.22 250.12,485.58 251.62,489.93 253.12,494.28 254.62,498.61 256.13,502.9 257.63,507.14 259.13,511.33 260.63,515.46 262.14,519.53 263.64,523.51 265.14,527.41 266.64,531.22 268.15,534.94 269.65,538.57 271.15,542.09 272.65,545.51 274.16,548.82 275.66,552.03 277.16,555.13 278.66,558.12 280.17,561 281.67,563.78 283.17,566.45 284.68,569.01 286.18,571.46 287.68,573.81 289.18,576.06 290.69,578.21 292.19,580.26 293.69,582.22 295.19,584.08 296.69,585.86 298.2,587.54 299.7,589.14 301.2,590.66 302.7,592.1 304.21,593.47 305.71,594.76 307.21,595.98 308.71,597.14 310.22,598.23 311.72,599.25 313.22,600.22 314.73,601.14 316.23,602 317.73,602.8 319.23,603.56 320.74,604.28 322.24,604.95 323.74,605.58 325.24,606.17 326.75,606.72 328.25,607.24 329.75,607.72" stroke="#dcf0f7" stroke-width="1.6" fill="none"/>
<path d="M29.25,614.2 30.75,614.2 32.26,614.2 33.76,614.2 35.26,614.2 36.76,614.2 38.27,614.2 39.77,614.2 41.27,614.2 42.77,614.2 44.27,614.2 45.78,614.2 47.28,614.2 48.78,614.2 50.28,614.2 51.79,614.2 53.29,614.2 54.79,614.2 56.3,614.2 57.8,614.2 59.3,614.2 60.8,614.2 62.3,614.2 63.81,614.2 65.31,614.2 66.81,614.2 68.31,614.2 69.82,614.2 71.32,614.2 72.82,614.2 74.33,614.2 75.83,614.2 77.33,614.2 78.83,614.2 80.34,614.2 81.84,614.2 83.34,614.2 84.84,614.2 86.34,614.2 87.85,614.2 89.35,614.2 90.85,614.2 92.35,614.2 93.86,614.2 95.36,614.2 96.86,614.2 98.36,614.2 99.87,614.2 101.37,614.2 102.87,614.2 104.38,614.2 105.88,614.2 107.38,614.2 108.88,614.2 110.39,614.2 111.89,614.2 113.39,614.2 114.89,614.2 116.39,614.2 117.9,614.19 119.4,614.19 120.9,614.19 122.41,614.18 123.91,614.17 125.41,614.16 126.91,614.14 128.42,614.12 129.92,614.08 131.42,614.03 132.92,613.96 134.43,613.88 135.93,613.76 137.43,613.61 138.93,613.41 140.44,613.16 141.94,612.84 143.44,612.44 144.94,611.94 146.44,611.32 147.95,610.58 149.45,609.67 150.95,608.59 152.45,607.31 153.96,605.81 155.46,604.05 156.96,602.03 158.47,599.71 159.97,597.07 161.47,594.09 162.97,590.77 164.47,587.07 165.98,583.01 167.48,578.56 168.98,573.74 170.49,568.54 171.99,562.99 173.49,557.09 174.99,550.88 176.5,544.39 178,537.64 179.5,530.68 181,523.55 182.5,516.3 184.01,508.99 185.51,501.67 187.01,494.38 188.51,487.2 190.02,480.16 191.52,473.33 193.02,466.75 194.53,460.47 196.03,454.54 197.53,448.99 199.03,443.86 200.53,439.18 202.04,434.96 203.54,431.23 205.04,427.99 206.54,425.25 208.05,423 209.55,421.24 211.05,419.94 212.56,419.08 214.06,418.62 215.56,418.5 217.06,418.71 218.56,419.29 220.07,420.24 221.57,421.55 223.07,423.2 224.57,425.17 226.08,427.45 227.58,430.03 229.08,432.88 230.59,435.98 232.09,439.31 233.59,442.86 235.09,446.6 236.59,450.51 238.1,454.58 239.6,458.77 241.1,463.08 242.6,467.48 244.11,471.95 245.61,476.48 247.11,481.04 248.62,485.63 250.12,490.22 251.62,494.79 253.12,499.35 254.62,503.87 256.13,508.34 257.63,512.74 259.13,517.08 260.63,521.34 262.14,525.52 263.64,529.6 265.14,533.57 266.64,537.45 268.15,541.21 269.65,544.86 271.15,548.4 272.65,551.81 274.16,555.11 275.66,558.28 277.16,561.34 278.66,564.27 280.17,567.08 281.67,569.77 283.17,572.35 284.68,574.81 286.18,577.15 287.68,579.39 289.18,581.51 290.69,583.53 292.19,585.45 293.69,587.27 295.19,588.99 296.69,590.62 298.2,592.15 299.7,593.61 301.2,594.98 302.7,596.27 304.21,597.48 305.71,598.63 307.21,599.7 308.71,600.71 310.22,601.65 311.72,602.54 313.22,603.37 314.73,604.15 316.23,604.87 317.73,605.55 319.23,606.18 320.74,606.77 322.24,607.33 323.74,607.84 325.24,608.32 326.75,608.76 328.25,609.17 329.75,609.56" stroke="#a52a2a" stroke-width="1.6" fill="none"/>
<path d="M29.25,614.2 30.75,614.2 32.26,614.2 33.76,614.2 35.26,614.2 36.76,614.2 38.27,614.2 39.77,614.2 41.27,614.2 42.77,614.2 44.27,614.2 45.78,614.2 47.28,614.2 48.78,614.2 50.28,614.2 51.79,614.2 53.29,614.2 54.79,614.2 56.3,614.2 57.8,614.2 59.3,614.2 60.8,614.2 62.3,614.2 63.81,614.2 65.31,614.2 66.81,614.2 68.31,614.2 69.82,614.2 71.32,614.2 72.82,614.2 74.33,614.2 75.83,614.2 77.33,614.2 78.83,614.2 80.34,614.2 81.84,614.2 83.34,614.2 84.84,614.2 86.34,614.2 87.85,614.2 89.35,614.2 90.85,614.2 92.35,614.2 93.86,614.2 95.36,614.2 96.86,614.19 98.36,614.19 99.87,614.19 101.37,614.18 102.87,614.18 104.38,614.17 105.88,614.15 107.38,614.13 108.88,614.11 110.39,614.08 111.89,614.04 113.39,613.99 114.89,613.92 116.39,613.84 117.9,613.74 119.4,613.61 120.9,613.45 122.41,613.25 123.91,613.01 125.41,612.72 126.91,612.38 128.42,611.97 129.92,611.49 131.42,610.92 132.92,610.25 134.43,609.49 135.93,608.61 137.43,607.6 138.93,606.45 140.44,605.16 141.94,603.71 143.44,602.09 144.94,600.3 146.44,598.32 147.95,596.15 149.45,593.78 150.95,591.22 152.45,588.45 153.96,585.47 155.46,582.3 156.96,578.93 158.47,575.37 159.97,571.62 161.47,567.7 162.97,563.62 164.47,559.39 165.98,555.03 167.48,550.55 168.98,545.98 170.49,541.33 171.99,536.62 173.49,531.89 174.99,527.14 176.5,522.41 178,517.71 179.5,513.08 181,508.52 182.5,504.07 184.01,499.74 185.51,495.56 187.01,491.54 188.51,487.71 190.02,484.06 191.52,480.63 193.02,477.42 194.53,474.44 196.03,471.7 197.53,469.2 199.03,466.95 200.53,464.96 202.04,463.21 203.54,461.71 205.04,460.46 206.54,459.44 208.05,458.66 209.55,458.09 211.05,457.72 212.56,457.54 214.06,457.5 215.56,457.66 217.06,458.03 218.56,458.61 220.07,459.4 221.57,460.39 223.07,461.56 224.57,462.92 226.08,464.46 227.58,466.15 229.08,468 230.59,470 232.09,472.14 233.59,474.4 235.09,476.78 236.59,479.26 238.1,481.84 239.6,484.51 241.1,487.26 242.6,490.07 244.11,492.94 245.61,495.86 247.11,498.82 248.62,501.81 250.12,504.82 251.62,507.85 253.12,510.89 254.62,513.92 256.13,516.96 257.63,519.97 259.13,522.97 260.63,525.95 262.14,528.89 263.64,531.81 265.14,534.68 266.64,537.51 268.15,540.29 269.65,543.02 271.15,545.7 272.65,548.33 274.16,550.9 275.66,553.41 277.16,555.85 278.66,558.24 280.17,560.56 281.67,562.81 283.17,565 284.68,567.13 286.18,569.19 287.68,571.18 289.18,573.11 290.69,574.98 292.19,576.77 293.69,578.51 295.19,580.18 296.69,581.79 298.2,583.34 299.7,584.83 301.2,586.26 302.7,587.64 304.21,588.96 305.71,590.22 307.21,591.43 308.71,592.59 310.22,593.7 311.72,594.76 313.22,595.77 314.73,596.73 316.23,597.66 317.73,598.54 319.23,599.37 320.74,600.17 322.24,600.93 323.74,601.66 325.24,602.34 326.75,603 328.25,603.62 329.75,604.21" stroke="#8ec4e2" stroke-width="1.6" fill="none"/>
<path d="M29.25,614.2 30.75,614.2 32.26,614.2 33.76,614.2 35.26,614.2 36.76,614.2 38.27,614.2 39.77,614.2 41.27,614.2 42.77,614.2 44.27,614.2 45.78,614.2 47.28,614.2 48.78,614.2 50.28,614.2 51.79,614.2 53.29,614.2 54.79,614.2 56.3,614.2 57.8,614.2 59.3,614.2 60.8,614.2 62.3,614.2 63.81,614.2 65.31,614.2 66.81,614.2 68.31,614.2 69.82,614.2 71.32,614.2 72.82,614.2 74.33,614.2 75.83,614.2 77.33,614.2 78.83,614.2 80.34,614.2 81.84,614.2 83.34,614.2 84.84,614.2 86.34,614.2 87.85,614.2 89.35,614.2 90.85,614.2 92.35,614.19 93.86,614.19 95.36,614.19 96.86,614.18 98.36,614.18 99.87,614.17 101.37,614.16 102.87,614.14 104.38,614.12 105.88,614.09 107.38,614.06 108.88,614.01 110.39,613.95 111.89,613.88 113.39,613.79 114.89,613.68 116.39,613.54 117.9,613.37 119.4,613.17 120.9,612.93 122.41,612.63 123.91,612.29 125.41,611.88 126.91,611.4 128.42,610.84 129.92,610.2 131.42,609.46 132.92,608.62 134.43,607.67 135.93,606.59 137.43,605.38 138.93,604.03 140.44,602.54 141.94,600.89 143.44,599.08 144.94,597.11 146.44,594.97 147.95,592.66 149.45,590.18 150.95,587.52 152.45,584.7 153.96,581.71 155.46,578.56 156.96,575.26 158.47,571.81 159.97,568.23 161.47,564.52 162.97,560.71 164.47,556.8 165.98,552.81 167.48,548.76 168.98,544.67 170.49,540.54 171.99,536.41 173.49,532.29 174.99,528.2 176.5,524.16 178,520.18 179.5,516.29 181,512.5 182.5,508.83 184.01,505.29 185.51,501.9 187.01,498.67 188.51,495.61 190.02,492.73 191.52,490.05 193.02,487.56 194.53,485.28 196.03,483.2 197.53,481.33 199.03,479.67 200.53,478.23 202.04,476.99 203.54,475.95 205.04,475.11 206.54,474.46 208.05,473.99 209.55,473.68 211.05,473.53 212.56,473.5 214.06,473.63 215.56,473.94 217.06,474.42 218.56,475.07 220.07,475.88 221.57,476.85 223.07,477.97 224.57,479.24 226.08,480.64 227.58,482.17 229.08,483.83 230.59,485.6 232.09,487.48 233.59,489.45 235.09,491.52 236.59,493.68 238.1,495.91 239.6,498.2 241.1,500.56 242.6,502.97 244.11,505.43 245.61,507.92 247.11,510.45 248.62,513 250.12,515.58 251.62,518.16 253.12,520.75 254.62,523.34 256.13,525.93 257.63,528.51 259.13,531.07 260.63,533.62 262.14,536.14 263.64,538.64 265.14,541.11 266.64,543.54 268.15,545.94 269.65,548.3 271.15,550.62 272.65,552.89 274.16,555.12 275.66,557.31 277.16,559.44 278.66,561.52 280.17,563.56 281.67,565.54 283.17,567.47 284.68,569.34 286.18,571.17 287.68,572.94 289.18,574.66 290.69,576.32 292.19,577.93 293.69,579.49 295.19,581 296.69,582.46 298.2,583.87 299.7,585.22 301.2,586.53 302.7,587.79 304.21,589 305.71,590.17 307.21,591.29 308.71,592.37 310.22,593.41 311.72,594.4 313.22,595.35 314.73,596.27 316.23,597.14 317.73,597.98 319.23,598.78 320.74,599.55 322.24,600.28 323.74,600.98 325.24,601.65 326.75,602.29 328.25,602.9 329.75,603.48" stroke="#3f70b6" stroke-width="1.6" fill="none"/>
<path d="M29.25,614.2 30.75,614.2 32.26,614.2 33.76,614.2 35.26,614.2 36.76,614.2 38.27,614.2 39.77,614.2 41.27,614.2 42.77,614.2 44.27,614.2 45.78,614.2 47.28,614.2 48.78,614.2 50.28,614.2 51.79,614.2 53.29,614.2 54.79,614.2 56.3,614.2 57.8,614.2 59.3,614.2 60.8,614.2 62.3,614.2 63.81,614.2 65.31,614.2 66.81,614.2 68.31,614.2 69.82,614.2 71.32,614.2 72.82,614.2 74.33,614.2 75.83,614.2 77.33,614.2 78.83,614.2 80.34,614.2 81.84,614.2 83.34,614.2 84.84,614.2 86.34,614.2 87.85,614.2 89.35,614.19 90.85,614.19 92.35,614.19 93.86,614.18 95.36,614.17 96.86,614.16 98.36,614.15 99.87,614.13 101.37,614.11 102.87,614.08 104.38,614.04 105.88,613.99 107.38,613.93 108.88,613.86 110.39,613.76 111.89,613.65 113.39,613.51 114.89,613.34 116.39,613.13 117.9,612.88 119.4,612.59 120.9,612.24 122.41,611.84 123.91,611.36 125.41,610.81 126.91,610.18 128.42,609.46 129.92,608.65 131.42,607.72 132.92,606.68 134.43,605.52 135.93,604.23 137.43,602.8 138.93,601.23 140.44,599.52 141.94,597.66 143.44,595.64 144.94,593.46 146.44,591.13 147.95,588.65 149.45,586.01 150.95,583.22 152.45,580.29 153.96,577.22 155.46,574.02 156.96,570.7 158.47,567.27 159.97,563.75 161.47,560.14 162.97,556.46 164.47,552.73 165.98,548.95 167.48,545.16 168.98,541.36 170.49,537.56 171.99,533.8 173.49,530.08 174.99,526.41 176.5,522.83 178,519.33 179.5,515.95 181,512.68 182.5,509.54 184.01,506.55 185.51,503.71 187.01,501.03 188.51,498.53 190.02,496.2 191.52,494.06 193.02,492.1 194.53,490.33 196.03,488.75 197.53,487.36 199.03,486.15 200.53,485.13 202.04,484.29 203.54,483.63 205.04,483.13 206.54,482.78 208.05,482.58 209.55,482.5 211.05,482.54 212.56,482.73 214.06,483.08 215.56,483.58 217.06,484.23 218.56,485.03 220.07,485.96 221.57,487.02 223.07,488.21 224.57,489.51 226.08,490.93 227.58,492.46 229.08,494.09 230.59,495.81 232.09,497.62 233.59,499.51 235.09,501.47 236.59,503.5 238.1,505.58 239.6,507.72 241.1,509.91 242.6,512.14 244.11,514.4 245.61,516.69 247.11,519.01 248.62,521.34 250.12,523.68 251.62,526.03 253.12,528.38 254.62,530.73 256.13,533.07 257.63,535.4 259.13,537.71 260.63,540.01 262.14,542.29 263.64,544.54 265.14,546.76 266.64,548.95 268.15,551.11 269.65,553.23 271.15,555.32 272.65,557.36 274.16,559.37 275.66,561.33 277.16,563.25 278.66,565.13 280.17,566.97 281.67,568.75 283.17,570.49 284.68,572.19 286.18,573.84 287.68,575.44 289.18,577 290.69,578.51 292.19,579.97 293.69,581.39 295.19,582.76 296.69,584.09 298.2,585.37 299.7,586.61 301.2,587.81 302.7,588.96 304.21,590.07 305.71,591.14 307.21,592.18 308.71,593.17 310.22,594.13 311.72,595.05 313.22,595.93 314.73,596.78 316.23,597.59 317.73,598.37 319.23,599.12 320.74,599.84 322.24,600.52 323.74,601.18 325.24,601.81 326.75,602.41 328.25,602.99 329.75,603.54" stroke="#2b4a7a" stroke-width="1.6" fill="none"/>
<path d="M29.25,614.2 30.75,614.2 32.26,614.2 33.76,614.2 35.26,614.2 36.76,614.2 38.27,614.2 39.77,614.2 41.27,614.2 42.77,614.2 44.27,614.2 45.78,614.2 47.28,614.2 48.78,614.2 50.28,614.2 51.79,614.2 53.29,614.2 54.79,614.2 56.3,614.2 57.8,614.2 59.3,614.2 60.8,614.2 62.3,614.2 63.81,614.2 65.31,614.2 66.81,614.2 68.31,614.2 69.82,614.2 71.32,614.2 72.82,614.2 74.33,614.2 75.83,614.2 77.33,614.2 78.83,614.2 80.34,614.2 81.84,614.2 83.34,614.2 84.84,614.2 86.34,614.19 87.85,614.19 89.35,614.19 90.85,614.19 92.35,614.18 93.86,614.17 95.36,614.16 96.86,614.15 98.36,614.13 99.87,614.11 101.37,614.08 102.87,614.04 104.38,613.99 105.88,613.93 107.38,613.86 108.88,613.77 110.39,613.65 111.89,613.52 113.39,613.35 114.89,613.15 116.39,612.91 117.9,612.63 119.4,612.29 120.9,611.9 122.41,611.45 123.91,610.93 125.41,610.32 126.91,609.64 128.42,608.86 129.92,607.98 131.42,607 132.92,605.9 134.43,604.68 135.93,603.33 137.43,601.86 138.93,600.24 140.44,598.49 141.94,596.59 143.44,594.55 144.94,592.37 146.44,590.04 147.95,587.56 149.45,584.95 150.95,582.21 152.45,579.33 153.96,576.34 155.46,573.23 156.96,570.03 158.47,566.73 159.97,563.35 161.47,559.9 162.97,556.4 164.47,552.86 165.98,549.3 167.48,545.73 168.98,542.17 170.49,538.63 171.99,535.12 173.49,531.67 174.99,528.28 176.5,524.98 178,521.77 179.5,518.66 181,515.68 182.5,512.83 184.01,510.11 185.51,507.55 187.01,505.13 188.51,502.89 190.02,500.81 191.52,498.9 193.02,497.16 194.53,495.6 196.03,494.21 197.53,493 199.03,491.96 200.53,491.09 202.04,490.39 203.54,489.83 205.04,489.43 206.54,489.17 208.05,489.03 209.55,489 211.05,489.09 212.56,489.32 214.06,489.7 215.56,490.21 217.06,490.86 218.56,491.63 220.07,492.53 221.57,493.54 223.07,494.67 224.57,495.91 226.08,497.25 227.58,498.69 229.08,500.21 230.59,501.82 232.09,503.51 233.59,505.27 235.09,507.1 236.59,508.98 238.1,510.92 239.6,512.91 241.1,514.94 242.6,517 244.11,519.1 245.61,521.23 247.11,523.37 248.62,525.53 250.12,527.7 251.62,529.88 253.12,532.06 254.62,534.24 256.13,536.42 257.63,538.58 259.13,540.73 260.63,542.87 262.14,544.99 263.64,547.08 265.14,549.15 266.64,551.2 268.15,553.21 269.65,555.19 271.15,557.14 272.65,559.06 274.16,560.94 275.66,562.78 277.16,564.59 278.66,566.35 280.17,568.08 281.67,569.76 283.17,571.41 284.68,573.01 286.18,574.57 287.68,576.08 289.18,577.56 290.69,578.99 292.19,580.38 293.69,581.73 295.19,583.04 296.69,584.31 298.2,585.54 299.7,586.72 301.2,587.87 302.7,588.98 304.21,590.05 305.71,591.09 307.21,592.08 308.71,593.04 310.22,593.97 311.72,594.86 313.22,595.72 314.73,596.54 316.23,597.34 317.73,598.1 319.23,598.83 320.74,599.54 322.24,600.21 323.74,600.86 325.24,601.48 326.75,602.08 328.25,602.65 329.75,603.19" stroke="#a32828" stroke-width="1.6" fill="none"/>
<path d="M29.25,614.2 30.75,614.2 32.26,614.2 33.76,614.2 35.26,614.2 36.76,614.2 38.27,614.2 39.77,614.2 41.27,614.2 42.77,614.2 44.27,614.2 45.78,614.2 47.28,614.2 48.78,614.2 50.28,614.2 51.79,614.2 53.29,614.2 54.79,614.2 56.3,614.2 57.8,614.2 59.3,614.2 60.8,614.2 62.3,614.2 63.81,614.2 65.31,614.2 66.81,614.2 68.31,614.2 69.82,614.2 71.32,614.2 72.82,614.2 74.33,614.2 75.83,614.2 77.33,614.2 78.83,614.2 80.34,614.2 81.84,614.2 83.34,614.2 84.84,614.19 86.34,614.19 87.85,614.19 89.35,614.18 90.85,614.18 92.35,614.17 93.86,614.16 95.36,614.14 96.86,614.12 98.36,614.1 99.87,614.07 101.37,614.03 102.87,613.98 104.38,613.91 105.88,613.83 107.38,613.74 108.88,613.62 110.39,613.48 111.89,613.3 113.39,613.1 114.89,612.85 116.39,612.56 117.9,612.22 119.4,611.83 120.9,611.37 122.41,610.84 123.91,610.24 125.41,609.56 126.91,608.78 128.42,607.91 129.92,606.94 131.42,605.86 132.92,604.66 134.43,603.34 135.93,601.9 137.43,600.33 138.93,598.62 140.44,596.79 141.94,594.81 143.44,592.7 144.94,590.46 146.44,588.09 147.95,585.58 149.45,582.96 150.95,580.21 152.45,577.36 153.96,574.4 155.46,571.35 156.96,568.22 158.47,565.02 159.97,561.76 161.47,558.46 162.97,555.12 164.47,551.76 165.98,548.4 167.48,545.05 168.98,541.72 170.49,538.43 171.99,535.19 173.49,532.02 174.99,528.92 176.5,525.92 178,523.01 179.5,520.22 181,517.56 182.5,515.02 184.01,512.62 185.51,510.37 187.01,508.27 188.51,506.33 190.02,504.54 191.52,502.92 193.02,501.46 194.53,500.16 196.03,499.03 197.53,498.06 199.03,497.24 200.53,496.57 202.04,496.05 203.54,495.67 205.04,495.42 206.54,495.29 208.05,495.25 209.55,495.32 211.05,495.53 212.56,495.88 214.06,496.35 215.56,496.95 217.06,497.67 218.56,498.5 220.07,499.45 221.57,500.51 223.07,501.66 224.57,502.92 226.08,504.26 227.58,505.69 229.08,507.2 230.59,508.78 232.09,510.43 233.59,512.15 235.09,513.92 236.59,515.74 238.1,517.61 239.6,519.51 241.1,521.46 242.6,523.43 244.11,525.43 245.61,527.45 247.11,529.49 248.62,531.54 250.12,533.59 251.62,535.65 253.12,537.71 254.62,539.76 256.13,541.8 257.63,543.84 259.13,545.86 260.63,547.86 262.14,549.84 263.64,551.8 265.14,553.74 266.64,555.65 268.15,557.53 269.65,559.37 271.15,561.19 272.65,562.98 274.16,564.73 275.66,566.44 277.16,568.12 278.66,569.76 280.17,571.36 281.67,572.93 283.17,574.45 284.68,575.94 286.18,577.38 287.68,578.79 289.18,580.16 290.69,581.49 292.19,582.78 293.69,584.03 295.19,585.24 296.69,586.41 298.2,587.55 299.7,588.65 301.2,589.71 302.7,590.74 304.21,591.73 305.71,592.69 307.21,593.61 308.71,594.5 310.22,595.36 311.72,596.18 313.22,596.98 314.73,597.74 316.23,598.48 317.73,599.18 319.23,599.86 320.74,600.51 322.24,601.14 323.74,601.74 325.24,602.32 326.75,602.87 328.25,603.4 329.75,603.9" stroke="#d73a2c" stroke-width="1.6" fill="none"/>
<path d="M29.25,614.2 30.75,614.2 32.26,614.2 33.76,614.2 35.26,614.2 36.76,614.2 38.27,614.2 39.77,614.2 41.27,614.2 42.77,614.2 44.27,614.2 45.78,614.2 47.28,614.2 48.78,614.2 50.28,614.2 51.79,614.2 53.29,614.2 54.79,614.2 56.3,614.2 57.8,614.2 59.3,614.2 60.8,614.2 62.3,614.2 63.81,614.2 65.31,614.2 66.81,614.2 68.31,614.2 69.82,614.2 71.32,614.2 72.82,614.2 74.33,614.2 75.83,614.2 77.33,614.2 78.83,614.2 80.34,614.2 81.84,614.19 83.34,614.19 84.84,614.19 86.34,614.19 87.85,614.18 89.35,614.17 90.85,614.16 92.35,614.15 93.86,614.13 95.36,614.11 96.86,614.08 98.36,614.04 99.87,614 101.37,613.94 102.87,613.87 104.38,613.78 105.88,613.67 107.38,613.54 108.88,613.38 110.39,613.19 111.89,612.96 113.39,612.7 114.89,612.38 116.39,612.02 117.9,611.59 119.4,611.1 120.9,610.54 122.41,609.89 123.91,609.17 125.41,608.35 126.91,607.43 128.42,606.41 129.92,605.28 131.42,604.03 132.92,602.66 134.43,601.16 135.93,599.54 137.43,597.79 138.93,595.9 140.44,593.88 141.94,591.73 143.44,589.45 144.94,587.04 146.44,584.5 147.95,581.85 149.45,579.09 150.95,576.22 152.45,573.26 153.96,570.21 155.46,567.09 156.96,563.91 158.47,560.67 159.97,557.4 161.47,554.1 162.97,550.79 164.47,547.48 165.98,544.19 167.48,540.92 168.98,537.71 170.49,534.55 171.99,531.46 173.49,528.45 174.99,525.53 176.5,522.73 178,520.03 179.5,517.46 181,515.02 182.5,512.72 184.01,510.57 185.51,508.57 187.01,506.72 188.51,505.03 190.02,503.5 191.52,502.12 193.02,500.91 194.53,499.86 196.03,498.96 197.53,498.21 199.03,497.61 200.53,497.15 202.04,496.82 203.54,496.61 205.04,496.51 206.54,496.51 208.05,496.63 209.55,496.88 211.05,497.26 212.56,497.76 214.06,498.39 215.56,499.14 217.06,500 218.56,500.97 220.07,502.04 221.57,503.21 223.07,504.47 224.57,505.82 226.08,507.26 227.58,508.76 229.08,510.34 230.59,511.99 232.09,513.7 233.59,515.46 235.09,517.26 236.59,519.12 238.1,521.01 239.6,522.93 241.1,524.89 242.6,526.86 244.11,528.86 245.61,530.87 247.11,532.89 248.62,534.91 250.12,536.94 251.62,538.97 253.12,540.99 254.62,543 256.13,545 257.63,546.99 259.13,548.96 260.63,550.91 262.14,552.83 263.64,554.74 265.14,556.61 266.64,558.46 268.15,560.27 269.65,562.06 271.15,563.81 272.65,565.53 274.16,567.21 275.66,568.86 277.16,570.47 278.66,572.04 280.17,573.57 281.67,575.07 283.17,576.53 284.68,577.95 286.18,579.33 287.68,580.67 289.18,581.97 290.69,583.24 292.19,584.46 293.69,585.65 295.19,586.8 296.69,587.92 298.2,589 299.7,590.04 301.2,591.05 302.7,592.02 304.21,592.96 305.71,593.87 307.21,594.74 308.71,595.59 310.22,596.4 311.72,597.18 313.22,597.93 314.73,598.65 316.23,599.35 317.73,600.01 319.23,600.65 320.74,601.27 322.24,601.86 323.74,602.43 325.24,602.97 326.75,603.49 328.25,603.99 329.75,604.47" stroke="#fdd28a" stroke-width="1.6" fill="none"/>
<rect x="457.6" y="376.1" width="301.15" height="242.39999999999998" stroke="#000" stroke-width="1.45" fill="none"/>
<path d="M457.6,618.5v4" stroke="#000" stroke-width="1.45" fill="none"/>
<text x="457.6" y="644.5" font-size="18" text-anchor="middle" >18</text>
<path d="M491.06,618.5v4" stroke="#000" stroke-width="1.45" fill="none"/>
<text x="491.06" y="644.5" font-size="18" text-anchor="middle" >21</text>
<path d="M524.52,618.5v4" stroke="#000" stroke-width="1.45" fill="none"/>
<text x="524.52" y="644.5" font-size="18" text-anchor="middle" >24</text>
<path d="M557.98,618.5v4" stroke="#000" stroke-width="1.45" fill="none"/>
<text x="557.98" y="644.5" font-size="18" text-anchor="middle" >27</text>
<path d="M591.44,618.5v4" stroke="#000" stroke-width="1.45" fill="none"/>
<text x="591.44" y="644.5" font-size="18" text-anchor="middle" >30</text>
<path d="M624.91,618.5v4" stroke="#000" stroke-width="1.45" fill="none"/>
<text x="624.91" y="644.5" font-size="18" text-anchor="middle" >33</text>
<path d="M658.37,618.5v4" stroke="#000" stroke-width="1.45" fill="none"/>
<text x="658.37" y="644.5" font-size="18" text-anchor="middle" >36</text>
<path d="M691.83,618.5v4" stroke="#000" stroke-width="1.45" fill="none"/>
<text x="691.83" y="644.5" font-size="18" text-anchor="middle" >39</text>
<path d="M725.29,618.5v4" stroke="#000" stroke-width="1.45" fill="none"/>
<text x="725.29" y="644.5" font-size="18" text-anchor="middle" >42</text>
<path d="M758.75,618.5v4" stroke="#000" stroke-width="1.45" fill="none"/>
<text x="758.75" y="644.5" font-size="18" text-anchor="middle" >45</text>
<path d="M457.6,618.5h-4" stroke="#000" stroke-width="1.45" fill="none"/>
<text x="446" y="625.1" font-size="18" text-anchor="end" >0.10</text>
<path d="M457.6,570.02h-4" stroke="#000" stroke-width="1.45" fill="none"/>
<text x="446" y="576.62" font-size="18" text-anchor="end" >0.12</text>
<path d="M457.6,521.54h-4" stroke="#000" stroke-width="1.45" fill="none"/>
<text x="446" y="528.14" font-size="18" text-anchor="end" >0.14</text>
<path d="M457.6,473.06h-4" stroke="#000" stroke-width="1.45" fill="none"/>
<text x="446" y="479.66" font-size="18" text-anchor="end" >0.16</text>
<path d="M457.6,424.58h-4" stroke="#000" stroke-width="1.45" fill="none"/>
<text x="446" y="431.18" font-size="18" text-anchor="end" >0.18</text>
<path d="M457.6,376.1h-4" stroke="#000" stroke-width="1.45" fill="none"/>
<text x="446" y="382.7" font-size="18" text-anchor="end" >0.20</text>
<text x="608.6" y="669.4" font-size="18" text-anchor="middle" >1/2KT</text>
<text transform="translate(398,508.2) rotate(-90)" font-size="18">FWHM<tspan font-size="12" dy="-7">2</tspan></text>
<defs><radialGradient id="sph" cx="0.5" cy="0.5" r="0.5" fx="0.36" fy="0.33"><stop offset="0" stop-color="#ffffff"/><stop offset="0.18" stop-color="#fbe4e8"/><stop offset="0.4" stop-color="#e25c70"/><stop offset="0.75" stop-color="#da4a5e"/><stop offset="1" stop-color="#c93c52"/></radialGradient></defs>
<circle cx="472.5" cy="417.25" r="6.3" fill="url(#sph)"/>
<circle cx="488.1" cy="428.5" r="6.3" fill="url(#sph)"/>
<circle cx="505.9" cy="445" r="6.3" fill="url(#sph)"/>
<circle cx="526.25" cy="481" r="6.3" fill="url(#sph)"/>
<circle cx="551" cy="502.25" r="6.3" fill="url(#sph)"/>
<circle cx="580.25" cy="532.25" r="6.3" fill="url(#sph)"/>
<circle cx="616.25" cy="556.9" r="6.3" fill="url(#sph)"/>
<circle cx="661" cy="596" r="6.3" fill="url(#sph)"/>
<circle cx="718.75" cy="602.9" r="6.3" fill="url(#sph)"/>
<circle cx="638.25" cy="399.25" r="6.3" fill="url(#sph)"/>
<path d="M472.25,402.04 475.37,407.67 478.49,413.14 481.61,418.47 484.73,423.66 487.85,428.71 490.97,433.62 494.09,438.4 497.21,443.06 500.33,447.59 503.45,452.01 506.57,456.3 509.69,460.49 512.81,464.57 515.93,468.55 519.05,472.43 522.17,476.21 525.29,479.89 528.41,483.49 531.53,487 534.66,490.42 537.78,493.76 540.9,497.03 544.02,500.22 547.14,503.33 550.26,506.38 553.38,509.36 556.5,512.27 559.62,515.12 562.74,517.91 565.86,520.64 568.98,523.32 572.1,525.94 575.22,528.5 578.34,531.02 581.46,533.49 584.58,535.91 587.7,538.29 590.82,540.62 593.94,542.91 597.06,545.16 600.18,547.37 603.3,549.55 606.42,551.68 609.54,553.78 612.66,555.84 615.78,557.86 618.9,559.86 622.02,561.81 625.14,563.74 628.26,565.63 631.38,567.5 634.5,569.33 637.62,571.12 640.74,572.89 643.86,574.63 646.98,576.33 650.1,578.01 653.22,579.65 656.34,581.26 659.47,582.84 662.59,584.38 665.71,585.9 668.83,587.37 671.95,588.82 675.07,590.23 678.19,591.6 681.31,592.93 684.43,594.23 687.55,595.49 690.67,596.71 693.79,597.88 696.91,599.01 700.03,600.1 703.15,601.14 706.27,602.13 709.39,603.08 712.51,603.97 715.63,604.8 718.75,605.59" stroke="#eba2c4" stroke-width="1.5" fill="none"/>
<path d="M627,421.75H652.5" stroke="#eba2c4" stroke-width="1.9"/>
<text x="661" y="405" font-size="18" text-anchor="start" >Experiment</text>
<text x="661" y="426.5" font-size="18" text-anchor="start" >Fit curve</text>
<text x="519.8" y="465.5" font-size="18" text-anchor="start" >Huang-Rhys factor (S) = 31.4</text>
<defs>
<linearGradient id="gP" x1="0" y1="0" x2="0" y2="1"><stop offset="0" stop-color="#fafaff"/><stop offset="0.3" stop-color="#c8d8f0"/><stop offset="0.6" stop-color="#6cb0dc"/><stop offset="1" stop-color="#2ed0e4"/></linearGradient>
<linearGradient id="gS" x1="0" y1="0" x2="0" y2="1"><stop offset="0" stop-color="#ffffff"/><stop offset="0.25" stop-color="#f4f8e2"/><stop offset="0.5" stop-color="#e2ec9e"/><stop offset="0.8" stop-color="#e0e650"/><stop offset="1" stop-color="#f4ea10"/></linearGradient>
<linearGradient id="gAbs" x1="0" y1="0" x2="0" y2="1"><stop offset="0" stop-color="#4a96d0"/><stop offset="1" stop-color="#e4eef8"/></linearGradient>
<linearGradient id="gAbsH" x1="0" y1="0" x2="0" y2="1"><stop offset="0" stop-color="#4a96d0"/><stop offset="1" stop-color="#84bce2"/></linearGradient>
<linearGradient id="gEm" x1="0" y1="0" x2="0" y2="1"><stop offset="0" stop-color="#fff4e8"/><stop offset="1" stop-color="#fcc47a"/></linearGradient>
<linearGradient id="gEmH" x1="0" y1="0" x2="0" y2="1"><stop offset="0" stop-color="#fbc070"/><stop offset="1" stop-color="#fde0b4"/></linearGradient>
</defs>
<path d="M853.75,623.25V381.5M853.75,623.25H1153" stroke="#000" stroke-width="1.4" fill="none"/>
<path d="M853.75,373.5L849.9,383.5H857.6Z" fill="#000"/>
<path d="M1161.25,623.25L1151.5,619.5V627Z" fill="#000"/>
<text transform="translate(842,500.9) rotate(-90)" font-size="18" text-anchor="middle">Energy</text>
<text x="1001" y="645" font-size="18" text-anchor="middle" >Configuration coordinate</text>
<path d="M895.6,401.88 897.62,404.45 899.65,406.94 901.67,409.35 903.69,411.67 905.72,413.9 907.74,416.05 909.77,418.11 911.79,420.07 913.81,421.94 915.84,423.72 917.86,425.41 919.88,427 921.91,428.5 923.93,429.9 925.96,431.2 927.98,432.41 930,433.52 932.03,434.53 934.05,435.45 936.07,436.26 938.1,436.98 940.12,437.6 942.15,438.12 944.17,438.55 946.19,438.88 948.22,439.11 950.24,439.25 952.26,439.3 954.29,439.25 956.31,439.1 958.34,438.87 960.36,438.54 962.38,438.12 964.41,437.62 966.43,437.02 968.45,436.34 970.48,435.58 972.5,434.74 974.53,433.81 976.55,432.8 978.57,431.72 980.6,430.56 982.62,429.33 984.64,428.03 986.67,426.66 988.69,425.22 990.72,423.72 992.74,422.16 994.76,420.54 996.79,418.86 998.81,417.14 1000.83,415.36 1002.86,413.53 1004.88,411.66 1006.91,409.76 1008.93,407.81 1010.95,405.83 1012.98,403.82 1015,401.79Z" fill="url(#gP)" stroke="none"/>
<path d="M895.6,401.88 897.62,404.45 899.65,406.94 901.67,409.35 903.69,411.67 905.72,413.9 907.74,416.05 909.77,418.11 911.79,420.07 913.81,421.94 915.84,423.72 917.86,425.41 919.88,427 921.91,428.5 923.93,429.9 925.96,431.2 927.98,432.41 930,433.52 932.03,434.53 934.05,435.45 936.07,436.26 938.1,436.98 940.12,437.6 942.15,438.12 944.17,438.55 946.19,438.88 948.22,439.11 950.24,439.25 952.26,439.3 954.29,439.25 956.31,439.1 958.34,438.87 960.36,438.54 962.38,438.12 964.41,437.62 966.43,437.02 968.45,436.34 970.48,435.58 972.5,434.74 974.53,433.81 976.55,432.8 978.57,431.72 980.6,430.56 982.62,429.33 984.64,428.03 986.67,426.66 988.69,425.22 990.72,423.72 992.74,422.16 994.76,420.54 996.79,418.86 998.81,417.14 1000.83,415.36 1002.86,413.53 1004.88,411.66 1006.91,409.76 1008.93,407.81 1010.95,405.83 1012.98,403.82 1015,401.79" fill="none" stroke="#0a0f1e" stroke-width="1.6"/>
<path d="M1022.5,412.19 1023.77,416.59 1025.04,420.77 1026.31,424.72 1027.58,428.47 1028.86,432 1030.13,435.34 1031.4,438.48 1032.67,441.42 1033.94,444.18 1035.21,446.76 1036.48,449.17 1037.75,451.4 1039.03,453.46 1040.3,455.36 1041.57,457.1 1042.84,458.69 1044.11,460.13 1045.38,461.42 1046.65,462.56 1047.92,463.57 1049.19,464.44 1050.47,465.17 1051.74,465.77 1053.01,466.25 1054.28,466.6 1055.55,466.83 1056.82,466.93 1058.09,466.92 1059.36,466.79 1060.64,466.55 1061.91,466.2 1063.18,465.73 1064.45,465.16 1065.72,464.47 1066.99,463.68 1068.26,462.78 1069.53,461.78 1070.81,460.67 1072.08,459.46 1073.35,458.15 1074.62,456.73 1075.89,455.21 1077.16,453.58 1078.43,451.85 1079.7,450.01 1080.97,448.08 1082.25,446.03 1083.52,443.88 1084.79,441.62 1086.06,439.25 1087.33,436.78 1088.6,434.19 1089.87,431.49 1091.14,428.67 1092.42,425.74 1093.69,422.69 1094.96,419.51 1096.23,416.22 1097.5,412.8Z" fill="url(#gS)" stroke="none"/>
<path d="M1022.5,412.19 1023.77,416.59 1025.04,420.77 1026.31,424.72 1027.58,428.47 1028.86,432 1030.13,435.34 1031.4,438.48 1032.67,441.42 1033.94,444.18 1035.21,446.76 1036.48,449.17 1037.75,451.4 1039.03,453.46 1040.3,455.36 1041.57,457.1 1042.84,458.69 1044.11,460.13 1045.38,461.42 1046.65,462.56 1047.92,463.57 1049.19,464.44 1050.47,465.17 1051.74,465.77 1053.01,466.25 1054.28,466.6 1055.55,466.83 1056.82,466.93 1058.09,466.92 1059.36,466.79 1060.64,466.55 1061.91,466.2 1063.18,465.73 1064.45,465.16 1065.72,464.47 1066.99,463.68 1068.26,462.78 1069.53,461.78 1070.81,460.67 1072.08,459.46 1073.35,458.15 1074.62,456.73 1075.89,455.21 1077.16,453.58 1078.43,451.85 1079.7,450.01 1080.97,448.08 1082.25,446.03 1083.52,443.88 1084.79,441.62 1086.06,439.25 1087.33,436.78 1088.6,434.19 1089.87,431.49 1091.14,428.67 1092.42,425.74 1093.69,422.69 1094.96,419.51 1096.23,416.22 1097.5,412.8" fill="none" stroke="#1c1c0c" stroke-width="1.6"/>
<path d="M903.75,561.24 906.61,564.07 909.48,566.8 912.34,569.42 915.21,571.96 918.07,574.39 920.93,576.73 923.8,578.97 926.66,581.13 929.53,583.19 932.39,585.16 935.25,587.05 938.12,588.85 940.98,590.56 943.84,592.18 946.71,593.73 949.57,595.19 952.44,596.57 955.3,597.87 958.16,599.09 961.03,600.23 963.89,601.3 966.76,602.29 969.62,603.2 972.48,604.05 975.35,604.82 978.21,605.52 981.08,606.15 983.94,606.71 986.8,607.21 989.67,607.63 992.53,607.99 995.4,608.29 998.26,608.52 1001.12,608.69 1003.99,608.8 1006.85,608.85 1009.72,608.84 1012.58,608.77 1015.44,608.64 1018.31,608.45 1021.17,608.21 1024.03,607.91 1026.9,607.56 1029.76,607.16 1032.63,606.7 1035.49,606.19 1038.35,605.63 1041.22,605.02 1044.08,604.37 1046.95,603.66 1049.81,602.9 1052.67,602.1 1055.54,601.26 1058.4,600.37 1061.27,599.43 1064.13,598.45 1066.99,597.43 1069.86,596.36 1072.72,595.26 1075.59,594.11 1078.45,592.93 1081.31,591.7 1084.18,590.44 1087.04,589.13 1089.91,587.79 1092.77,586.42 1095.63,585.01 1098.5,583.56 1101.36,582.08 1104.22,580.56 1107.09,579.01 1109.95,577.43 1112.82,575.81 1115.68,574.17 1118.54,572.49 1121.41,570.78 1124.27,569.04 1127.14,567.27 1130,565.47" fill="none" stroke="#000" stroke-width="1.5"/>
<rect x="948.1" y="476" width="8.8" height="99.5" fill="url(#gAbs)"/>
<path d="M952.5,453.1L965,476.9H940Z" fill="url(#gAbsH)"/>
<rect x="1052.25" y="471.25" width="7.75" height="99" fill="url(#gEm)"/>
<path d="M1043.5,570H1069L1056.25,593.5Z" fill="url(#gEmH)"/>
<path d="M975.5,394C987,385 998,381.2 1008,381.6C1018,382 1027,387 1036.5,395.5" stroke="#262612" stroke-width="3.6" fill="none"/>
<path d="M975.5,394C987,385 998,381.2 1008,381.6C1018,382 1027,387 1036.5,395.5" stroke="#f0d400" stroke-width="2.2" fill="none"/>
<path d="M975.5,394C987,385 998,381.2 1008,381.6C1018,382 1027,387 1036.5,395.5" stroke="#fffbe6" stroke-width="0.8" fill="none"/>
<path d="M1044.4,404L1033.5,401.4L1041.9,393Z" fill="#f2d400" stroke="#262612" stroke-width="0.9" stroke-linejoin="miter"/>
<circle cx="1039.5" cy="398.3" r="0.9" fill="#fffbe6"/>
<text x="883.5" y="386.5" font-size="12">3</text>
<text x="891.8" y="394.3" font-size="17">P</text>
<text x="903.5" y="399.5" font-size="12">1</text>
<text x="1103" y="415.25" font-size="18" text-anchor="start" >STEs</text>
<text x="913.2" y="513.75" font-size="18" text-anchor="start" >Abs</text>
<text x="1071.5" y="515" font-size="18" text-anchor="start" >Emissions</text>
<text x="856.3" y="613.75" font-size="18" text-anchor="start" >Ground state</text>
</svg>
</body></html>
